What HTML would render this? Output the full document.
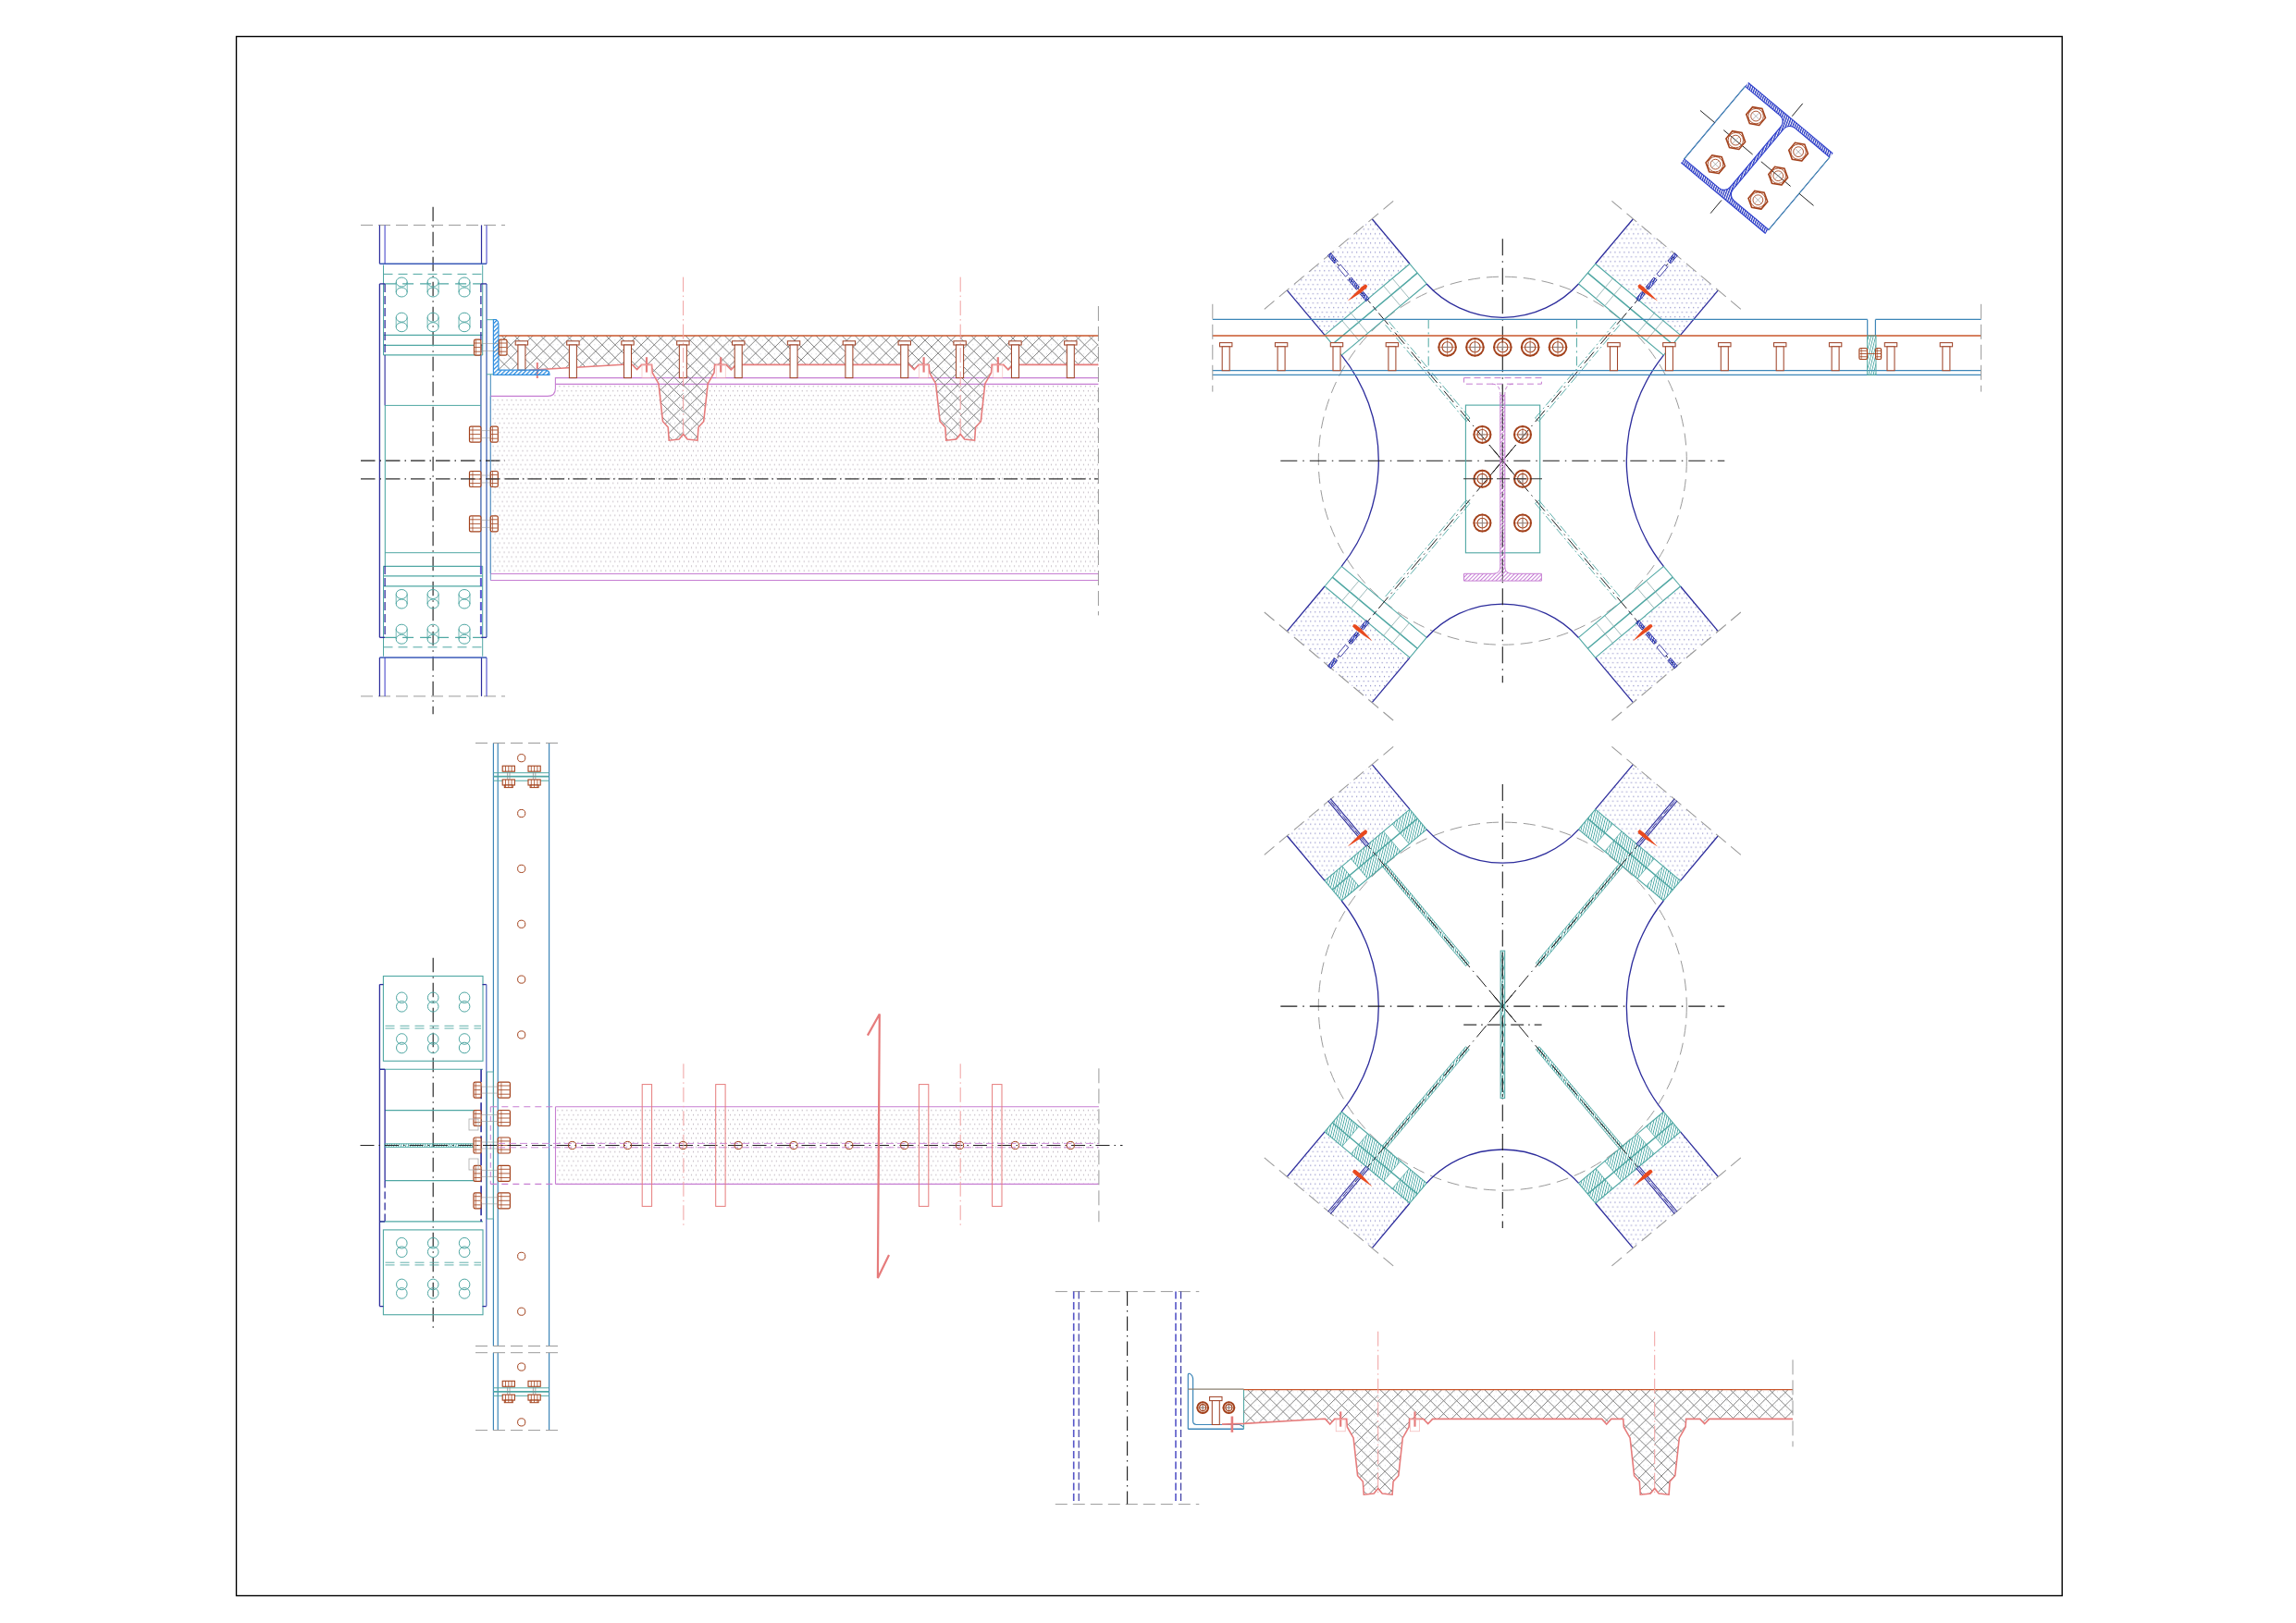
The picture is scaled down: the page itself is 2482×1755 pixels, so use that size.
<!DOCTYPE html>
<html><head><meta charset="utf-8"><title>Drawing</title>
<style>html,body{margin:0;padding:0;background:#fff;overflow:hidden;}svg{display:block;}</style>
</head><body>
<svg width="2482" height="1755" viewBox="0 0 2482 1755">
<defs>
<pattern id="xhA" patternUnits="userSpaceOnUse" width="14.1" height="13.9" patternTransform="translate(9.3,4.5)">
 <path d="M-14.10 -13.90 L0.00 0.00 M0.00 -13.90 L-14.10 0.00 M-14.10 0.00 L0.00 13.90 M0.00 0.00 L-14.10 13.90 M-14.10 13.90 L0.00 27.80 M0.00 13.90 L-14.10 27.80 M0.00 -13.90 L14.10 0.00 M14.10 -13.90 L0.00 0.00 M0.00 0.00 L14.10 13.90 M14.10 0.00 L0.00 13.90 M0.00 13.90 L14.10 27.80 M14.10 13.90 L0.00 27.80 M14.10 -13.90 L28.20 0.00 M28.20 -13.90 L14.10 0.00 M14.10 0.00 L28.20 13.90 M28.20 0.00 L14.10 13.90 M14.10 13.90 L28.20 27.80 M28.20 13.90 L14.10 27.80" stroke="#727272" stroke-width="1.0" fill="none"/>
</pattern>
<pattern id="xhB" patternUnits="userSpaceOnUse" width="14.1" height="13.9" patternTransform="translate(13.0,6.7)">
 <path d="M-14.10 -13.90 L0.00 0.00 M0.00 -13.90 L-14.10 0.00 M-14.10 0.00 L0.00 13.90 M0.00 0.00 L-14.10 13.90 M-14.10 13.90 L0.00 27.80 M0.00 13.90 L-14.10 27.80 M0.00 -13.90 L14.10 0.00 M14.10 -13.90 L0.00 0.00 M0.00 0.00 L14.10 13.90 M14.10 0.00 L0.00 13.90 M0.00 13.90 L14.10 27.80 M14.10 13.90 L0.00 27.80 M14.10 -13.90 L28.20 0.00 M28.20 -13.90 L14.10 0.00 M14.10 0.00 L28.20 13.90 M28.20 0.00 L14.10 13.90 M14.10 13.90 L28.20 27.80 M28.20 13.90 L14.10 27.80" stroke="#727272" stroke-width="1.0" fill="none"/>
</pattern>
<pattern id="xhA2" patternUnits="userSpaceOnUse" width="14.1" height="13.9" patternTransform="translate(12.3,4.5)">
 <path d="M-14.10 -13.90 L0.00 0.00 M0.00 -13.90 L-14.10 0.00 M-14.10 0.00 L0.00 13.90 M0.00 0.00 L-14.10 13.90 M-14.10 13.90 L0.00 27.80 M0.00 13.90 L-14.10 27.80 M0.00 -13.90 L14.10 0.00 M14.10 -13.90 L0.00 0.00 M0.00 0.00 L14.10 13.90 M14.10 0.00 L0.00 13.90 M0.00 13.90 L14.10 27.80 M14.10 13.90 L0.00 27.80 M14.10 -13.90 L28.20 0.00 M28.20 -13.90 L14.10 0.00 M14.10 0.00 L28.20 13.90 M28.20 0.00 L14.10 13.90 M14.10 13.90 L28.20 27.80 M28.20 13.90 L14.10 27.80" stroke="#727272" stroke-width="1.0" fill="none"/>
</pattern>
<pattern id="xhB2" patternUnits="userSpaceOnUse" width="14.1" height="13.9" patternTransform="translate(2.5,6.6)">
 <path d="M-14.10 -13.90 L0.00 0.00 M0.00 -13.90 L-14.10 0.00 M-14.10 0.00 L0.00 13.90 M0.00 0.00 L-14.10 13.90 M-14.10 13.90 L0.00 27.80 M0.00 13.90 L-14.10 27.80 M0.00 -13.90 L14.10 0.00 M14.10 -13.90 L0.00 0.00 M0.00 0.00 L14.10 13.90 M14.10 0.00 L0.00 13.90 M0.00 13.90 L14.10 27.80 M14.10 13.90 L0.00 27.80 M14.10 -13.90 L28.20 0.00 M28.20 -13.90 L14.10 0.00 M14.10 0.00 L28.20 13.90 M28.20 0.00 L14.10 13.90 M14.10 13.90 L28.20 27.80 M28.20 13.90 L14.10 27.80" stroke="#727272" stroke-width="1.0" fill="none"/>
</pattern>
<clipPath id="cTL1"><rect x="0" y="0" width="738.6" height="1755"/></clipPath>
<clipPath id="cTL2"><rect x="738.6" y="0" width="299.6" height="1755"/></clipPath>
<clipPath id="cTL3"><rect x="1038.2" y="0" width="1400" height="1755"/></clipPath>
<clipPath id="cB1"><rect x="0" y="0" width="1489.7" height="1755"/></clipPath>
<clipPath id="cB2"><rect x="1489.7" y="0" width="299" height="1755"/></clipPath>
<clipPath id="cB3"><rect x="1788.7" y="0" width="700" height="1755"/></clipPath>
<pattern id="dotp" patternUnits="userSpaceOnUse" width="4.987" height="9.974">
 <rect x="3.93" y="3.03" width="1.0" height="1.4" fill="#b8aeb8"/>
 <rect x="1.03" y="8.02" width="1.0" height="1.4" fill="#b8aeb8"/>
 <rect x="1.03" y="-1.96" width="1.0" height="1.4" fill="#b8aeb8"/>
</pattern>
<pattern id="dots" patternUnits="userSpaceOnUse" width="4.987" height="9.974">
 <rect x="3.93" y="3.03" width="1.0" height="1.4" fill="#e2e2e8"/>
 <rect x="1.03" y="8.02" width="1.0" height="1.4" fill="#e2e2e8"/>
</pattern>
<pattern id="dotb" patternUnits="userSpaceOnUse" width="4.987" height="9.974">
 <rect x="2.6" y="7.85" width="1.0" height="1.3" fill="#8080c0"/>
 <rect x="0.0" y="2.87" width="1.0" height="1.3" fill="#8080c0"/>
 <rect x="4.987" y="2.87" width="1.0" height="1.3" fill="#8080c0"/>
</pattern>
<pattern id="hb" patternUnits="userSpaceOnUse" width="3.2" height="3.2" patternTransform="rotate(45)">
 <rect x="0" y="0" width="1.3" height="3.2" fill="#2f8ee0"/>
</pattern>
<pattern id="hnavy" patternUnits="userSpaceOnUse" width="2.4" height="2.4" patternTransform="rotate(20)">
 <rect x="0" y="0" width="1.3" height="2.4" fill="#2535c0"/>
</pattern>
<pattern id="ht" patternUnits="userSpaceOnUse" width="2.5" height="2.5" patternTransform="rotate(14)">
 <rect x="0" y="0" width="0.85" height="2.5" fill="#44a5a1"/>
</pattern>
<pattern id="hp" patternUnits="userSpaceOnUse" width="3" height="3" patternTransform="rotate(45)">
 <rect x="0" y="0" width="1" height="3" fill="#c77fd6"/>
</pattern>
</defs>
<rect x="255.5" y="39.5" width="1973.7" height="1686" stroke="#000" stroke-width="1.4" fill="none"/>
<line x1="390" y1="243.4" x2="546" y2="243.4" stroke="#9a9a9a" stroke-width="1" stroke-dasharray="13 6"/>
<line x1="390" y1="752.9" x2="546" y2="752.9" stroke="#9a9a9a" stroke-width="1" stroke-dasharray="13 6"/>
<line x1="468.1" y1="223.7" x2="468.1" y2="772.2" stroke="#1a1a1a" stroke-width="1.1" stroke-dasharray="15.5 5 1.5 5"/>
<line x1="410.4" y1="243.4" x2="410.4" y2="285.3" stroke="#2c2c9c" stroke-width="1.2"/>
<line x1="416.1" y1="243.4" x2="416.1" y2="285.3" stroke="#5a5ad0" stroke-width="1.2"/>
<line x1="520.5" y1="243.4" x2="520.5" y2="285.3" stroke="#2c2c9c" stroke-width="1.2"/>
<line x1="526" y1="243.4" x2="526" y2="285.3" stroke="#5a5ad0" stroke-width="1.2"/>
<line x1="410.4" y1="710.9" x2="410.4" y2="752.9" stroke="#2c2c9c" stroke-width="1.2"/>
<line x1="416.1" y1="710.9" x2="416.1" y2="752.9" stroke="#5a5ad0" stroke-width="1.2"/>
<line x1="520.5" y1="710.9" x2="520.5" y2="752.9" stroke="#2c2c9c" stroke-width="1.2"/>
<line x1="526" y1="710.9" x2="526" y2="752.9" stroke="#5a5ad0" stroke-width="1.2"/>
<line x1="410.4" y1="285.3" x2="526" y2="285.3" stroke="#3a5ab8" stroke-width="1.5"/>
<line x1="410.4" y1="710.9" x2="526" y2="710.9" stroke="#3a5ab8" stroke-width="1.5"/>
<line x1="414.5" y1="286.5" x2="414.5" y2="384" stroke="#4fa7a3" stroke-width="1"/>
<line x1="521.7" y1="286.5" x2="521.7" y2="384" stroke="#4fa7a3" stroke-width="1"/>
<line x1="414.5" y1="296.4" x2="521.7" y2="296.4" stroke="#4fa7a3" stroke-width="1" stroke-dasharray="10 6"/>
<line x1="416.1" y1="306.9" x2="519.9" y2="306.9" stroke="#4fa7a3" stroke-width="1.2" stroke-dasharray="12 7"/>
<line x1="414.5" y1="362.3" x2="521.7" y2="362.3" stroke="#4fa7a3" stroke-width="1.3"/>
<line x1="414.5" y1="373.4" x2="521.7" y2="373.4" stroke="#4fa7a3" stroke-width="1.3"/>
<line x1="414.5" y1="383.9" x2="521.7" y2="383.9" stroke="#4fa7a3" stroke-width="1.3"/>
<ellipse cx="434.2" cy="305" rx="6" ry="5" stroke="#4fa7a3" stroke-width="1" fill="none"/>
<ellipse cx="434.2" cy="316" rx="6" ry="5" stroke="#4fa7a3" stroke-width="1" fill="none"/>
<line x1="428.2" y1="305" x2="428.2" y2="316" stroke="#4fa7a3" stroke-width="0.8"/>
<line x1="440.2" y1="305" x2="440.2" y2="316" stroke="#4fa7a3" stroke-width="0.8"/>
<ellipse cx="434.2" cy="343.2" rx="6" ry="5" stroke="#4fa7a3" stroke-width="1" fill="none"/>
<ellipse cx="434.2" cy="353.7" rx="6" ry="5" stroke="#4fa7a3" stroke-width="1" fill="none"/>
<line x1="428.2" y1="343.2" x2="428.2" y2="353.7" stroke="#4fa7a3" stroke-width="0.8"/>
<line x1="440.2" y1="343.2" x2="440.2" y2="353.7" stroke="#4fa7a3" stroke-width="0.8"/>
<ellipse cx="468.1" cy="305" rx="6" ry="5" stroke="#4fa7a3" stroke-width="1" fill="none"/>
<ellipse cx="468.1" cy="316" rx="6" ry="5" stroke="#4fa7a3" stroke-width="1" fill="none"/>
<line x1="462.1" y1="305" x2="462.1" y2="316" stroke="#4fa7a3" stroke-width="0.8"/>
<line x1="474.1" y1="305" x2="474.1" y2="316" stroke="#4fa7a3" stroke-width="0.8"/>
<ellipse cx="468.1" cy="343.2" rx="6" ry="5" stroke="#4fa7a3" stroke-width="1" fill="none"/>
<ellipse cx="468.1" cy="353.7" rx="6" ry="5" stroke="#4fa7a3" stroke-width="1" fill="none"/>
<line x1="462.1" y1="343.2" x2="462.1" y2="353.7" stroke="#4fa7a3" stroke-width="0.8"/>
<line x1="474.1" y1="343.2" x2="474.1" y2="353.7" stroke="#4fa7a3" stroke-width="0.8"/>
<ellipse cx="502" cy="305" rx="6" ry="5" stroke="#4fa7a3" stroke-width="1" fill="none"/>
<ellipse cx="502" cy="316" rx="6" ry="5" stroke="#4fa7a3" stroke-width="1" fill="none"/>
<line x1="496" y1="305" x2="496" y2="316" stroke="#4fa7a3" stroke-width="0.8"/>
<line x1="508" y1="305" x2="508" y2="316" stroke="#4fa7a3" stroke-width="0.8"/>
<ellipse cx="502" cy="343.2" rx="6" ry="5" stroke="#4fa7a3" stroke-width="1" fill="none"/>
<ellipse cx="502" cy="353.7" rx="6" ry="5" stroke="#4fa7a3" stroke-width="1" fill="none"/>
<line x1="496" y1="343.2" x2="496" y2="353.7" stroke="#4fa7a3" stroke-width="0.8"/>
<line x1="508" y1="343.2" x2="508" y2="353.7" stroke="#4fa7a3" stroke-width="0.8"/>
<line x1="414.5" y1="709.7" x2="414.5" y2="612.2" stroke="#4fa7a3" stroke-width="1"/>
<line x1="521.7" y1="709.7" x2="521.7" y2="612.2" stroke="#4fa7a3" stroke-width="1"/>
<line x1="414.5" y1="699.8" x2="521.7" y2="699.8" stroke="#4fa7a3" stroke-width="1" stroke-dasharray="10 6"/>
<line x1="416.1" y1="689.3" x2="519.9" y2="689.3" stroke="#4fa7a3" stroke-width="1.2" stroke-dasharray="12 7"/>
<line x1="414.5" y1="633.9" x2="521.7" y2="633.9" stroke="#4fa7a3" stroke-width="1.3"/>
<line x1="414.5" y1="622.8" x2="521.7" y2="622.8" stroke="#4fa7a3" stroke-width="1.3"/>
<line x1="414.5" y1="612.3" x2="521.7" y2="612.3" stroke="#4fa7a3" stroke-width="1.3"/>
<ellipse cx="434.2" cy="691.2" rx="6" ry="5" stroke="#4fa7a3" stroke-width="1" fill="none"/>
<ellipse cx="434.2" cy="680.2" rx="6" ry="5" stroke="#4fa7a3" stroke-width="1" fill="none"/>
<line x1="428.2" y1="691.2" x2="428.2" y2="680.2" stroke="#4fa7a3" stroke-width="0.8"/>
<line x1="440.2" y1="691.2" x2="440.2" y2="680.2" stroke="#4fa7a3" stroke-width="0.8"/>
<ellipse cx="434.2" cy="653" rx="6" ry="5" stroke="#4fa7a3" stroke-width="1" fill="none"/>
<ellipse cx="434.2" cy="642.5" rx="6" ry="5" stroke="#4fa7a3" stroke-width="1" fill="none"/>
<line x1="428.2" y1="653" x2="428.2" y2="642.5" stroke="#4fa7a3" stroke-width="0.8"/>
<line x1="440.2" y1="653" x2="440.2" y2="642.5" stroke="#4fa7a3" stroke-width="0.8"/>
<ellipse cx="468.1" cy="691.2" rx="6" ry="5" stroke="#4fa7a3" stroke-width="1" fill="none"/>
<ellipse cx="468.1" cy="680.2" rx="6" ry="5" stroke="#4fa7a3" stroke-width="1" fill="none"/>
<line x1="462.1" y1="691.2" x2="462.1" y2="680.2" stroke="#4fa7a3" stroke-width="0.8"/>
<line x1="474.1" y1="691.2" x2="474.1" y2="680.2" stroke="#4fa7a3" stroke-width="0.8"/>
<ellipse cx="468.1" cy="653" rx="6" ry="5" stroke="#4fa7a3" stroke-width="1" fill="none"/>
<ellipse cx="468.1" cy="642.5" rx="6" ry="5" stroke="#4fa7a3" stroke-width="1" fill="none"/>
<line x1="462.1" y1="653" x2="462.1" y2="642.5" stroke="#4fa7a3" stroke-width="0.8"/>
<line x1="474.1" y1="653" x2="474.1" y2="642.5" stroke="#4fa7a3" stroke-width="0.8"/>
<ellipse cx="502" cy="691.2" rx="6" ry="5" stroke="#4fa7a3" stroke-width="1" fill="none"/>
<ellipse cx="502" cy="680.2" rx="6" ry="5" stroke="#4fa7a3" stroke-width="1" fill="none"/>
<line x1="496" y1="691.2" x2="496" y2="680.2" stroke="#4fa7a3" stroke-width="0.8"/>
<line x1="508" y1="691.2" x2="508" y2="680.2" stroke="#4fa7a3" stroke-width="0.8"/>
<ellipse cx="502" cy="653" rx="6" ry="5" stroke="#4fa7a3" stroke-width="1" fill="none"/>
<ellipse cx="502" cy="642.5" rx="6" ry="5" stroke="#4fa7a3" stroke-width="1" fill="none"/>
<line x1="496" y1="653" x2="496" y2="642.5" stroke="#4fa7a3" stroke-width="0.8"/>
<line x1="508" y1="653" x2="508" y2="642.5" stroke="#4fa7a3" stroke-width="0.8"/>
<line x1="410.4" y1="306.9" x2="410.4" y2="689.3" stroke="#2c2c9c" stroke-width="1.3"/>
<line x1="526" y1="306.9" x2="526" y2="689.3" stroke="#5a78c0" stroke-width="1.5"/>
<line x1="410.4" y1="306.9" x2="416.1" y2="306.9" stroke="#2c2c9c" stroke-width="1.3"/>
<line x1="410.4" y1="689.3" x2="416.1" y2="689.3" stroke="#2c2c9c" stroke-width="1.3"/>
<line x1="519.9" y1="306.9" x2="526" y2="306.9" stroke="#2c2c9c" stroke-width="1.3"/>
<line x1="519.9" y1="689.3" x2="526" y2="689.3" stroke="#2c2c9c" stroke-width="1.3"/>
<line x1="416.1" y1="306.9" x2="416.1" y2="384" stroke="#2c2c9c" stroke-width="1.3" stroke-dasharray="9 4"/>
<line x1="416.1" y1="612" x2="416.1" y2="689.3" stroke="#2c2c9c" stroke-width="1.3" stroke-dasharray="9 4"/>
<line x1="416.1" y1="384" x2="416.1" y2="438.4" stroke="#2c2c9c" stroke-width="1.1"/>
<line x1="416.3" y1="438.4" x2="416.3" y2="612" stroke="#4fa7a3" stroke-width="1.1"/>
<line x1="519.9" y1="306.9" x2="519.9" y2="384" stroke="#2c2c9c" stroke-width="1.3" stroke-dasharray="9 4"/>
<line x1="519.9" y1="612" x2="519.9" y2="689.3" stroke="#5a5ad0" stroke-width="2" stroke-dasharray="9 4"/>
<line x1="519.9" y1="384" x2="519.9" y2="612" stroke="#5a7ab8" stroke-width="1.5"/>
<line x1="416" y1="438.4" x2="520" y2="438.4" stroke="#4fa7a3" stroke-width="1"/>
<line x1="416" y1="597.7" x2="520" y2="597.7" stroke="#4fa7a3" stroke-width="1"/>
<line x1="530.3" y1="404.8" x2="530.3" y2="620" stroke="#3d86b8" stroke-width="1"/>
<line x1="526" y1="345.7" x2="533.4" y2="345.7" stroke="#4fa7a3" stroke-width="1"/>
<line x1="526" y1="404.8" x2="533.4" y2="404.8" stroke="#4fa7a3" stroke-width="1"/>
<line x1="390" y1="498.2" x2="546" y2="498.2" stroke="#1a1a1a" stroke-width="1.2" stroke-dasharray="15.5 5 1.5 5"/>
<path d="M530.3 428.4 L592 428.4 Q600.4 428.4 600.4 420 L600.4 415.4 L1187.4 415.4 L1187.4 620.5 L530.3 620.5 Z" fill="url(#dotp)" stroke="none"/>
<path d="M530.3 428.4 L592 428.4 Q600.4 428.4 600.4 420 L600.4 408.6 L1187.4 408.6" stroke="#c67ed2" stroke-width="1.1" fill="none"/>
<line x1="600.4" y1="415.4" x2="1187.4" y2="415.4" stroke="#c67ed2" stroke-width="1.1"/>
<line x1="530.3" y1="620.5" x2="1187.4" y2="620.5" stroke="#c67ed2" stroke-width="1.1"/>
<line x1="530.3" y1="627.5" x2="1187.4" y2="627.5" stroke="#c67ed2" stroke-width="1.1"/>
<line x1="530.3" y1="428.4" x2="530.3" y2="627.5" stroke="#6a9ac8" stroke-width="1"/>
<path d="M538.9 363 L538.9 400.2 L571.8 400.2 L681.7 393.8 L683.6 394.4 L688.6 399.6 L693.6 394.4 L704.6 394.4 L705.2 402.9 L709.1 409.9 L712 414.9 L716.5 455.7 L722.2 462 L723.2 476.2 L734.1 475 L738.6 469.4 L743.1 475 L754 476.2 L755 462 L760.7 455.7 L765.2 414.9 L768.1 409.9 L772 402.9 L772.6 394.4 L785.1 394.4 L790.3 399.9 L795.6 394.4 L983.2 394.4 L988.2 399.6 L993.2 394.4 L1004.2 394.4 L1004.8 402.9 L1008.7 409.9 L1011.6 414.9 L1016.1 455.7 L1021.8 462 L1022.8 476.2 L1033.7 475 L1038.2 469.4 L1042.7 475 L1053.6 476.2 L1054.6 462 L1060.3 455.7 L1064.8 414.9 L1067.7 409.9 L1071.6 402.9 L1072.2 394.4 L1084.7 394.4 L1089.9 399.9 L1095.2 394.4 L1187.4 394.4 L1187.4 363 Z" stroke="none" stroke-width="0" fill="url(#dots)"/>
<clipPath id="xc1"><path d="M538.9 363 L538.9 400.2 L571.8 400.2 L681.7 393.8 L683.6 394.4 L688.6 399.6 L693.6 394.4 L704.6 394.4 L705.2 402.9 L709.1 409.9 L712 414.9 L716.5 455.7 L722.2 462 L723.2 476.2 L734.1 475 L738.6 469.4 L743.1 475 L754 476.2 L755 462 L760.7 455.7 L765.2 414.9 L768.1 409.9 L772 402.9 L772.6 394.4 L785.1 394.4 L790.3 399.9 L795.6 394.4 L983.2 394.4 L988.2 399.6 L993.2 394.4 L1004.2 394.4 L1004.8 402.9 L1008.7 409.9 L1011.6 414.9 L1016.1 455.7 L1021.8 462 L1022.8 476.2 L1033.7 475 L1038.2 469.4 L1042.7 475 L1053.6 476.2 L1054.6 462 L1060.3 455.7 L1064.8 414.9 L1067.7 409.9 L1071.6 402.9 L1072.2 394.4 L1084.7 394.4 L1089.9 399.9 L1095.2 394.4 L1187.4 394.4 L1187.4 363 Z"/></clipPath>
<clipPath id="xc1r"><rect x="0" y="0" width="738.6" height="1755"/></clipPath>
<g clip-path="url(#xc1r)"><g clip-path="url(#xc1)"><path d="M385.03 361 L503.92 478.2 M394.97 361 L276.08 478.2 M399.13 361 L518.02 478.2 M409.07 361 L290.18 478.2 M413.23 361 L532.12 478.2 M423.17 361 L304.28 478.2 M427.33 361 L546.22 478.2 M437.27 361 L318.38 478.2 M441.43 361 L560.32 478.2 M451.37 361 L332.48 478.2 M455.53 361 L574.42 478.2 M465.47 361 L346.58 478.2 M469.63 361 L588.52 478.2 M479.57 361 L360.68 478.2 M483.73 361 L602.62 478.2 M493.67 361 L374.78 478.2 M497.83 361 L616.72 478.2 M507.77 361 L388.88 478.2 M511.93 361 L630.82 478.2 M521.87 361 L402.98 478.2 M526.03 361 L644.92 478.2 M535.97 361 L417.08 478.2 M540.13 361 L659.02 478.2 M550.07 361 L431.18 478.2 M554.23 361 L673.12 478.2 M564.17 361 L445.28 478.2 M568.33 361 L687.22 478.2 M578.27 361 L459.38 478.2 M582.43 361 L701.32 478.2 M592.37 361 L473.48 478.2 M596.53 361 L715.42 478.2 M606.47 361 L487.58 478.2 M610.63 361 L729.52 478.2 M620.57 361 L501.68 478.2 M624.73 361 L743.62 478.2 M634.67 361 L515.78 478.2 M638.83 361 L757.72 478.2 M648.77 361 L529.88 478.2 M652.93 361 L771.82 478.2 M662.87 361 L543.98 478.2 M667.03 361 L785.92 478.2 M676.97 361 L558.08 478.2 M681.13 361 L800.02 478.2 M691.07 361 L572.18 478.2 M695.23 361 L814.12 478.2 M705.17 361 L586.28 478.2 M709.33 361 L828.22 478.2 M719.27 361 L600.38 478.2 M723.43 361 L842.32 478.2 M733.37 361 L614.48 478.2 M737.53 361 L856.42 478.2 M747.47 361 L628.58 478.2 M751.63 361 L870.52 478.2 M761.57 361 L642.68 478.2 M765.73 361 L884.62 478.2 M775.67 361 L656.78 478.2 M779.83 361 L898.72 478.2 M789.77 361 L670.88 478.2 M793.93 361 L912.82 478.2 M803.87 361 L684.98 478.2 M808.03 361 L926.92 478.2 M817.97 361 L699.08 478.2 M822.13 361 L941.02 478.2 M832.07 361 L713.18 478.2 M836.23 361 L955.12 478.2 M846.17 361 L727.28 478.2 M850.33 361 L969.22 478.2 M860.27 361 L741.38 478.2 M864.43 361 L983.32 478.2 M874.37 361 L755.48 478.2 M878.53 361 L997.42 478.2 M888.47 361 L769.58 478.2" stroke="#858585" stroke-width="1" fill="none"/></g></g>
<clipPath id="xc2"><path d="M538.9 363 L538.9 400.2 L571.8 400.2 L681.7 393.8 L683.6 394.4 L688.6 399.6 L693.6 394.4 L704.6 394.4 L705.2 402.9 L709.1 409.9 L712 414.9 L716.5 455.7 L722.2 462 L723.2 476.2 L734.1 475 L738.6 469.4 L743.1 475 L754 476.2 L755 462 L760.7 455.7 L765.2 414.9 L768.1 409.9 L772 402.9 L772.6 394.4 L785.1 394.4 L790.3 399.9 L795.6 394.4 L983.2 394.4 L988.2 399.6 L993.2 394.4 L1004.2 394.4 L1004.8 402.9 L1008.7 409.9 L1011.6 414.9 L1016.1 455.7 L1021.8 462 L1022.8 476.2 L1033.7 475 L1038.2 469.4 L1042.7 475 L1053.6 476.2 L1054.6 462 L1060.3 455.7 L1064.8 414.9 L1067.7 409.9 L1071.6 402.9 L1072.2 394.4 L1084.7 394.4 L1089.9 399.9 L1095.2 394.4 L1187.4 394.4 L1187.4 363 Z"/></clipPath>
<clipPath id="xc2r"><rect x="738.6" y="0" width="299.6" height="1755"/></clipPath>
<g clip-path="url(#xc2r)"><g clip-path="url(#xc2)"><path d="M583.9 361 L702.78 478.2 M598.3 361 L479.42 478.2 M598 361 L716.88 478.2 M612.4 361 L493.52 478.2 M612.1 361 L730.98 478.2 M626.5 361 L507.62 478.2 M626.2 361 L745.08 478.2 M640.6 361 L521.72 478.2 M640.3 361 L759.18 478.2 M654.7 361 L535.82 478.2 M654.4 361 L773.28 478.2 M668.8 361 L549.92 478.2 M668.5 361 L787.38 478.2 M682.9 361 L564.02 478.2 M682.6 361 L801.48 478.2 M697 361 L578.12 478.2 M696.7 361 L815.58 478.2 M711.1 361 L592.22 478.2 M710.8 361 L829.68 478.2 M725.2 361 L606.32 478.2 M724.9 361 L843.78 478.2 M739.3 361 L620.42 478.2 M739 361 L857.88 478.2 M753.4 361 L634.52 478.2 M753.1 361 L871.98 478.2 M767.5 361 L648.62 478.2 M767.2 361 L886.08 478.2 M781.6 361 L662.72 478.2 M781.3 361 L900.18 478.2 M795.7 361 L676.82 478.2 M795.4 361 L914.28 478.2 M809.8 361 L690.92 478.2 M809.5 361 L928.38 478.2 M823.9 361 L705.02 478.2 M823.6 361 L942.48 478.2 M838 361 L719.12 478.2 M837.7 361 L956.58 478.2 M852.1 361 L733.22 478.2 M851.8 361 L970.68 478.2 M866.2 361 L747.32 478.2 M865.9 361 L984.78 478.2 M880.3 361 L761.42 478.2 M880 361 L998.88 478.2 M894.4 361 L775.52 478.2 M894.1 361 L1012.98 478.2 M908.5 361 L789.62 478.2 M908.2 361 L1027.08 478.2 M922.6 361 L803.72 478.2 M922.3 361 L1041.18 478.2 M936.7 361 L817.82 478.2 M936.4 361 L1055.28 478.2 M950.8 361 L831.92 478.2 M950.5 361 L1069.38 478.2 M964.9 361 L846.02 478.2 M964.6 361 L1083.48 478.2 M979 361 L860.12 478.2 M978.7 361 L1097.58 478.2 M993.1 361 L874.22 478.2 M992.8 361 L1111.68 478.2 M1007.2 361 L888.32 478.2 M1006.9 361 L1125.78 478.2 M1021.3 361 L902.42 478.2 M1021 361 L1139.88 478.2 M1035.4 361 L916.52 478.2 M1035.1 361 L1153.98 478.2 M1049.5 361 L930.62 478.2 M1049.2 361 L1168.08 478.2 M1063.6 361 L944.72 478.2 M1063.3 361 L1182.18 478.2 M1077.7 361 L958.82 478.2 M1077.4 361 L1196.28 478.2 M1091.8 361 L972.92 478.2 M1091.5 361 L1210.38 478.2 M1105.9 361 L987.02 478.2 M1105.6 361 L1224.48 478.2 M1120 361 L1001.12 478.2 M1119.7 361 L1238.58 478.2 M1134.1 361 L1015.22 478.2 M1133.8 361 L1252.68 478.2 M1148.2 361 L1029.32 478.2 M1147.9 361 L1266.78 478.2 M1162.3 361 L1043.42 478.2 M1162 361 L1280.88 478.2 M1176.4 361 L1057.52 478.2 M1176.1 361 L1294.98 478.2 M1190.5 361 L1071.62 478.2" stroke="#858585" stroke-width="1" fill="none"/></g></g>
<clipPath id="xc3"><path d="M538.9 363 L538.9 400.2 L571.8 400.2 L681.7 393.8 L683.6 394.4 L688.6 399.6 L693.6 394.4 L704.6 394.4 L705.2 402.9 L709.1 409.9 L712 414.9 L716.5 455.7 L722.2 462 L723.2 476.2 L734.1 475 L738.6 469.4 L743.1 475 L754 476.2 L755 462 L760.7 455.7 L765.2 414.9 L768.1 409.9 L772 402.9 L772.6 394.4 L785.1 394.4 L790.3 399.9 L795.6 394.4 L983.2 394.4 L988.2 399.6 L993.2 394.4 L1004.2 394.4 L1004.8 402.9 L1008.7 409.9 L1011.6 414.9 L1016.1 455.7 L1021.8 462 L1022.8 476.2 L1033.7 475 L1038.2 469.4 L1042.7 475 L1053.6 476.2 L1054.6 462 L1060.3 455.7 L1064.8 414.9 L1067.7 409.9 L1071.6 402.9 L1072.2 394.4 L1084.7 394.4 L1089.9 399.9 L1095.2 394.4 L1187.4 394.4 L1187.4 363 Z"/></clipPath>
<clipPath id="xc3r"><rect x="1038.2" y="0" width="961.8" height="1755"/></clipPath>
<g clip-path="url(#xc3r)"><g clip-path="url(#xc3)"><path d="M892.63 361 L1011.52 478.2 M902.57 361 L783.68 478.2 M906.73 361 L1025.62 478.2 M916.67 361 L797.78 478.2 M920.83 361 L1039.72 478.2 M930.77 361 L811.88 478.2 M934.93 361 L1053.82 478.2 M944.87 361 L825.98 478.2 M949.03 361 L1067.92 478.2 M958.97 361 L840.08 478.2 M963.13 361 L1082.02 478.2 M973.07 361 L854.18 478.2 M977.23 361 L1096.12 478.2 M987.17 361 L868.28 478.2 M991.33 361 L1110.22 478.2 M1001.27 361 L882.38 478.2 M1005.43 361 L1124.32 478.2 M1015.37 361 L896.48 478.2 M1019.53 361 L1138.42 478.2 M1029.47 361 L910.58 478.2 M1033.63 361 L1152.52 478.2 M1043.57 361 L924.68 478.2 M1047.73 361 L1166.62 478.2 M1057.67 361 L938.78 478.2 M1061.83 361 L1180.72 478.2 M1071.77 361 L952.88 478.2 M1075.93 361 L1194.82 478.2 M1085.87 361 L966.98 478.2 M1090.03 361 L1208.92 478.2 M1099.97 361 L981.08 478.2 M1104.13 361 L1223.02 478.2 M1114.07 361 L995.18 478.2 M1118.23 361 L1237.12 478.2 M1128.17 361 L1009.28 478.2 M1132.33 361 L1251.22 478.2 M1142.27 361 L1023.38 478.2 M1146.43 361 L1265.32 478.2 M1156.37 361 L1037.48 478.2 M1160.53 361 L1279.42 478.2 M1170.47 361 L1051.58 478.2 M1174.63 361 L1293.52 478.2 M1184.57 361 L1065.68 478.2 M1188.73 361 L1307.62 478.2 M1198.67 361 L1079.78 478.2 M1202.83 361 L1321.72 478.2 M1212.77 361 L1093.88 478.2 M1216.93 361 L1335.82 478.2 M1226.87 361 L1107.98 478.2 M1231.03 361 L1349.92 478.2 M1240.97 361 L1122.08 478.2 M1245.13 361 L1364.02 478.2 M1255.07 361 L1136.18 478.2 M1259.23 361 L1378.12 478.2 M1269.17 361 L1150.28 478.2 M1273.33 361 L1392.22 478.2 M1283.27 361 L1164.38 478.2 M1287.43 361 L1406.32 478.2 M1297.37 361 L1178.48 478.2 M1301.53 361 L1420.42 478.2 M1311.47 361 L1192.58 478.2 M1315.63 361 L1434.52 478.2 M1325.57 361 L1206.68 478.2 M1329.73 361 L1448.62 478.2 M1339.67 361 L1220.78 478.2" stroke="#858585" stroke-width="1" fill="none"/></g></g>
<path d="M571.8 400.2 L681.7 393.8 L683.6 394.4 L688.6 399.6 L693.6 394.4 L704.6 394.4 L705.2 402.9 L709.1 409.9 L712 414.9 L716.5 455.7 L722.2 462 L723.2 476.2 L734.1 475 L738.6 469.4 L743.1 475 L754 476.2 L755 462 L760.7 455.7 L765.2 414.9 L768.1 409.9 L772 402.9 L772.6 394.4 L785.1 394.4 L790.3 399.9 L795.6 394.4 L983.2 394.4 L988.2 399.6 L993.2 394.4 L1004.2 394.4 L1004.8 402.9 L1008.7 409.9 L1011.6 414.9 L1016.1 455.7 L1021.8 462 L1022.8 476.2 L1033.7 475 L1038.2 469.4 L1042.7 475 L1053.6 476.2 L1054.6 462 L1060.3 455.7 L1064.8 414.9 L1067.7 409.9 L1071.6 402.9 L1072.2 394.4 L1084.7 394.4 L1089.9 399.9 L1095.2 394.4 L1187.4 394.4" stroke="#e67c7c" stroke-width="1.6" fill="none"/>
<line x1="538.9" y1="363" x2="1187.4" y2="363" stroke="#c9562b" stroke-width="1.4"/>
<rect x="557.2" y="368.8" width="13.4" height="4.2" stroke="#a0452a" stroke-width="1.05" fill="#fff"/>
<rect x="559.9" y="373" width="8" height="27.2" stroke="#a0452a" stroke-width="1.05" fill="#fff"/>
<rect x="612.7" y="368.8" width="13.4" height="4.2" stroke="#a0452a" stroke-width="1.05" fill="#fff"/>
<rect x="615.4" y="373" width="8" height="35.6" stroke="#a0452a" stroke-width="1.05" fill="#fff"/>
<rect x="671.8" y="368.8" width="13.4" height="4.2" stroke="#a0452a" stroke-width="1.05" fill="#fff"/>
<rect x="674.5" y="373" width="8" height="35.6" stroke="#a0452a" stroke-width="1.05" fill="#fff"/>
<rect x="731.65" y="368.8" width="13.4" height="4.2" stroke="#a0452a" stroke-width="1.05" fill="#fff"/>
<rect x="734.35" y="373" width="8" height="35.6" stroke="#a0452a" stroke-width="1.05" fill="#fff"/>
<rect x="791.5" y="368.8" width="13.4" height="4.2" stroke="#a0452a" stroke-width="1.05" fill="#fff"/>
<rect x="794.2" y="373" width="8" height="35.6" stroke="#a0452a" stroke-width="1.05" fill="#fff"/>
<rect x="851.35" y="368.8" width="13.4" height="4.2" stroke="#a0452a" stroke-width="1.05" fill="#fff"/>
<rect x="854.05" y="373" width="8" height="35.6" stroke="#a0452a" stroke-width="1.05" fill="#fff"/>
<rect x="911.2" y="368.8" width="13.4" height="4.2" stroke="#a0452a" stroke-width="1.05" fill="#fff"/>
<rect x="913.9" y="373" width="8" height="35.6" stroke="#a0452a" stroke-width="1.05" fill="#fff"/>
<rect x="971.05" y="368.8" width="13.4" height="4.2" stroke="#a0452a" stroke-width="1.05" fill="#fff"/>
<rect x="973.75" y="373" width="8" height="35.6" stroke="#a0452a" stroke-width="1.05" fill="#fff"/>
<rect x="1030.9" y="368.8" width="13.4" height="4.2" stroke="#a0452a" stroke-width="1.05" fill="#fff"/>
<rect x="1033.6" y="373" width="8" height="35.6" stroke="#a0452a" stroke-width="1.05" fill="#fff"/>
<rect x="1090.75" y="368.8" width="13.4" height="4.2" stroke="#a0452a" stroke-width="1.05" fill="#fff"/>
<rect x="1093.45" y="373" width="8" height="35.6" stroke="#a0452a" stroke-width="1.05" fill="#fff"/>
<rect x="1150.6" y="368.8" width="13.4" height="4.2" stroke="#a0452a" stroke-width="1.05" fill="#fff"/>
<rect x="1153.3" y="373" width="8" height="35.6" stroke="#a0452a" stroke-width="1.05" fill="#fff"/>
<line x1="738.6" y1="299.6" x2="738.6" y2="470" stroke="#f0a0a0" stroke-width="1" stroke-dasharray="16 4 1.5 4"/>
<line x1="699" y1="386.2" x2="699" y2="402.6" stroke="#e67c7c" stroke-width="2.2"/>
<rect x="694" y="394.4" width="10" height="14.2" stroke="#f3b5b5" stroke-width="0.6" fill="none"/>
<line x1="779.2" y1="386.2" x2="779.2" y2="402.6" stroke="#e67c7c" stroke-width="2.2"/>
<rect x="774.2" y="394.4" width="10" height="14.2" stroke="#f3b5b5" stroke-width="0.6" fill="none"/>
<line x1="1038.2" y1="299.6" x2="1038.2" y2="470" stroke="#f0a0a0" stroke-width="1" stroke-dasharray="16 4 1.5 4"/>
<line x1="998.6" y1="386.2" x2="998.6" y2="402.6" stroke="#e67c7c" stroke-width="2.2"/>
<rect x="993.6" y="394.4" width="10" height="14.2" stroke="#f3b5b5" stroke-width="0.6" fill="none"/>
<line x1="1078.8" y1="386.2" x2="1078.8" y2="402.6" stroke="#e67c7c" stroke-width="2.2"/>
<rect x="1073.8" y="394.4" width="10" height="14.2" stroke="#f3b5b5" stroke-width="0.6" fill="none"/>
<line x1="580.8" y1="392" x2="580.8" y2="409" stroke="#e67c7c" stroke-width="2"/>
<line x1="576" y1="400.5" x2="586" y2="400.5" stroke="#e67c7c" stroke-width="1"/>
<path d="M533.4 345.7 L536.5 345.7 Q538.9 347 538.9 350 L538.9 400.2 L590 400.2 Q594 401 594 405.3 L533.4 405.3 Z" stroke="#2f8ee0" stroke-width="1.2" fill="url(#hb)"/>
<rect x="507.5" y="461.1" width="12.4" height="17" stroke="#a3421c" stroke-width="1.2" fill="#fff" rx="1.6"/>
<line x1="508.1" y1="465.01" x2="519.3" y2="465.01" stroke="#a3421c" stroke-width="0.85"/>
<line x1="508.1" y1="469.6" x2="519.3" y2="469.6" stroke="#a3421c" stroke-width="0.85"/>
<line x1="508.1" y1="474.19" x2="519.3" y2="474.19" stroke="#a3421c" stroke-width="0.85"/>
<line x1="510.97" y1="461.7" x2="510.97" y2="477.5" stroke="#a3421c" stroke-width="0.7"/>
<rect x="530.3" y="461.1" width="8" height="17" stroke="#a3421c" stroke-width="1.2" fill="#fff" rx="1.6"/>
<line x1="530.9" y1="465.01" x2="537.7" y2="465.01" stroke="#a3421c" stroke-width="0.85"/>
<line x1="530.9" y1="469.6" x2="537.7" y2="469.6" stroke="#a3421c" stroke-width="0.85"/>
<line x1="530.9" y1="474.19" x2="537.7" y2="474.19" stroke="#a3421c" stroke-width="0.85"/>
<line x1="532.54" y1="461.7" x2="532.54" y2="477.5" stroke="#a3421c" stroke-width="0.7"/>
<line x1="519.9" y1="465.6" x2="530.3" y2="465.6" stroke="#999" stroke-width="0.6"/>
<line x1="519.9" y1="473.6" x2="530.3" y2="473.6" stroke="#999" stroke-width="0.6"/>
<rect x="507.5" y="509.5" width="12.4" height="17" stroke="#a3421c" stroke-width="1.2" fill="#fff" rx="1.6"/>
<line x1="508.1" y1="513.41" x2="519.3" y2="513.41" stroke="#a3421c" stroke-width="0.85"/>
<line x1="508.1" y1="518" x2="519.3" y2="518" stroke="#a3421c" stroke-width="0.85"/>
<line x1="508.1" y1="522.59" x2="519.3" y2="522.59" stroke="#a3421c" stroke-width="0.85"/>
<line x1="510.97" y1="510.1" x2="510.97" y2="525.9" stroke="#a3421c" stroke-width="0.7"/>
<rect x="530.3" y="509.5" width="8" height="17" stroke="#a3421c" stroke-width="1.2" fill="#fff" rx="1.6"/>
<line x1="530.9" y1="513.41" x2="537.7" y2="513.41" stroke="#a3421c" stroke-width="0.85"/>
<line x1="530.9" y1="518" x2="537.7" y2="518" stroke="#a3421c" stroke-width="0.85"/>
<line x1="530.9" y1="522.59" x2="537.7" y2="522.59" stroke="#a3421c" stroke-width="0.85"/>
<line x1="532.54" y1="510.1" x2="532.54" y2="525.9" stroke="#a3421c" stroke-width="0.7"/>
<line x1="519.9" y1="514" x2="530.3" y2="514" stroke="#999" stroke-width="0.6"/>
<line x1="519.9" y1="522" x2="530.3" y2="522" stroke="#999" stroke-width="0.6"/>
<rect x="507.5" y="557.9" width="12.4" height="17" stroke="#a3421c" stroke-width="1.2" fill="#fff" rx="1.6"/>
<line x1="508.1" y1="561.81" x2="519.3" y2="561.81" stroke="#a3421c" stroke-width="0.85"/>
<line x1="508.1" y1="566.4" x2="519.3" y2="566.4" stroke="#a3421c" stroke-width="0.85"/>
<line x1="508.1" y1="570.99" x2="519.3" y2="570.99" stroke="#a3421c" stroke-width="0.85"/>
<line x1="510.97" y1="558.5" x2="510.97" y2="574.3" stroke="#a3421c" stroke-width="0.7"/>
<rect x="530.3" y="557.9" width="8" height="17" stroke="#a3421c" stroke-width="1.2" fill="#fff" rx="1.6"/>
<line x1="530.9" y1="561.81" x2="537.7" y2="561.81" stroke="#a3421c" stroke-width="0.85"/>
<line x1="530.9" y1="566.4" x2="537.7" y2="566.4" stroke="#a3421c" stroke-width="0.85"/>
<line x1="530.9" y1="570.99" x2="537.7" y2="570.99" stroke="#a3421c" stroke-width="0.85"/>
<line x1="532.54" y1="558.5" x2="532.54" y2="574.3" stroke="#a3421c" stroke-width="0.7"/>
<line x1="519.9" y1="562.4" x2="530.3" y2="562.4" stroke="#999" stroke-width="0.6"/>
<line x1="519.9" y1="570.4" x2="530.3" y2="570.4" stroke="#999" stroke-width="0.6"/>
<rect x="512.5" y="367.1" width="7.4" height="17" stroke="#a3421c" stroke-width="1.2" fill="#fff" rx="1.6"/>
<line x1="513.1" y1="371.01" x2="519.3" y2="371.01" stroke="#a3421c" stroke-width="0.85"/>
<line x1="513.1" y1="375.6" x2="519.3" y2="375.6" stroke="#a3421c" stroke-width="0.85"/>
<line x1="513.1" y1="380.19" x2="519.3" y2="380.19" stroke="#a3421c" stroke-width="0.85"/>
<line x1="514.57" y1="367.7" x2="514.57" y2="383.5" stroke="#a3421c" stroke-width="0.7"/>
<rect x="539.5" y="367.1" width="8.5" height="17" stroke="#a3421c" stroke-width="1.2" fill="#fff" rx="1.6"/>
<line x1="540.1" y1="371.01" x2="547.4" y2="371.01" stroke="#a3421c" stroke-width="0.85"/>
<line x1="540.1" y1="375.6" x2="547.4" y2="375.6" stroke="#a3421c" stroke-width="0.85"/>
<line x1="540.1" y1="380.19" x2="547.4" y2="380.19" stroke="#a3421c" stroke-width="0.85"/>
<line x1="541.88" y1="367.7" x2="541.88" y2="383.5" stroke="#a3421c" stroke-width="0.7"/>
<line x1="519.9" y1="371.5" x2="539" y2="371.5" stroke="#999" stroke-width="0.6"/>
<line x1="519.9" y1="379.5" x2="539" y2="379.5" stroke="#999" stroke-width="0.6"/>
<line x1="546" y1="517.8" x2="1187.4" y2="517.8" stroke="#333" stroke-width="1.3" stroke-dasharray="15 4 1.5 4"/>
<line x1="390" y1="517.8" x2="546" y2="517.8" stroke="#333" stroke-width="1.2" stroke-dasharray="15.5 5 1.5 5"/>
<line x1="1187.4" y1="331" x2="1187.4" y2="665.4" stroke="#9a9a9a" stroke-width="1" stroke-dasharray="16 6"/>
<circle cx="1624.3" cy="498.2" r="199" stroke="#9a9a9a" stroke-width="1" fill="none" stroke-dasharray="13 7"/>
<path d="M1432.04 362.42 L1391.29 313.85 L1483.21 236.71 L1523.96 285.28 Z" stroke="none" stroke-width="0" fill="url(#dotb)"/>
<line x1="1432.04" y1="362.42" x2="1391.29" y2="313.85" stroke="#2c2c9c" stroke-width="1.3"/>
<line x1="1523.96" y1="285.28" x2="1483.21" y2="236.71" stroke="#2c2c9c" stroke-width="1.3"/>
<line x1="1450.23" y1="384.09" x2="1432.04" y2="362.42" stroke="#4fa7a3" stroke-width="1.1"/>
<line x1="1542.16" y1="306.96" x2="1523.96" y2="285.28" stroke="#4fa7a3" stroke-width="1.1"/>
<line x1="1432.04" y1="362.42" x2="1523.96" y2="285.28" stroke="#4fa7a3" stroke-width="1.1"/>
<line x1="1440.33" y1="372.3" x2="1532.26" y2="295.16" stroke="#4fa7a3" stroke-width="1.5"/>
<line x1="1450.23" y1="384.09" x2="1542.16" y2="306.96" stroke="#4fa7a3" stroke-width="1.1"/>
<line x1="1469" y1="368.35" x2="1450.81" y2="346.67" stroke="#8aa" stroke-width="0.8"/>
<line x1="1478.57" y1="360.31" x2="1460.38" y2="338.63" stroke="#8aa" stroke-width="0.8"/>
<line x1="1513.81" y1="330.74" x2="1495.62" y2="309.06" stroke="#8aa" stroke-width="0.8"/>
<line x1="1523.39" y1="322.71" x2="1505.2" y2="301.03" stroke="#8aa" stroke-width="0.8"/>
<line x1="1366.77" y1="334.42" x2="1507.72" y2="216.14" stroke="#9a9a9a" stroke-width="1.1" stroke-dasharray="14 7"/>
<line x1="1488.03" y1="335.8" x2="1437.25" y2="275.28" stroke="#223" stroke-width="1" stroke-dasharray="6 4"/>
<path d="M1442.52 284.83 L1435.32 276.25 L1438.54 273.55 L1445.74 282.13 Z" stroke="#2c2c9c" stroke-width="0.9" fill="url(#hnavy)"/>
<path d="M1454.47 299.08 L1445.86 288.81 L1449.08 286.11 L1457.69 296.38 Z" stroke="#2c2c9c" stroke-width="0.9" fill="#fff"/>
<path d="M1466.24 313.09 L1457.56 302.75 L1460.78 300.05 L1469.45 310.39 Z" stroke="#2c2c9c" stroke-width="0.9" fill="url(#hnavy)"/>
<path d="M1476.84 325.73 L1470.41 318.07 L1473.63 315.37 L1480.06 323.03 Z" stroke="#2c2c9c" stroke-width="0.9" fill="url(#hnavy)"/>
<path d="M1456.63 325.6 L1463.14 321.7 L1471.57 316.19 L1477.32 311.37 L1478.16 309.1 L1476.05 307.21 L1471.81 310.25 L1463.26 318.73 Z" stroke="none" stroke-width="0" fill="#e8491e"/>
<line x1="1585.03" y1="455.44" x2="1496.96" y2="350.49" stroke="#4fa7a3" stroke-width="0.9" stroke-dasharray="10 3 2 3"/>
<line x1="1589.01" y1="452.1" x2="1500.95" y2="347.15" stroke="#4fa7a3" stroke-width="0.9" stroke-dasharray="10 3 2 3"/>
<line x1="1585.03" y1="455.44" x2="1589.01" y2="452.1" stroke="#4fa7a3" stroke-width="0.9"/>
<line x1="1624.3" y1="498.2" x2="1488.03" y2="335.8" stroke="#1a1a1a" stroke-width="1" stroke-dasharray="16 5 1.5 5"/>
<path d="M1432.04 633.98 L1391.29 682.55 L1483.21 759.69 L1523.96 711.12 Z" stroke="none" stroke-width="0" fill="url(#dotb)"/>
<line x1="1432.04" y1="633.98" x2="1391.29" y2="682.55" stroke="#2c2c9c" stroke-width="1.3"/>
<line x1="1523.96" y1="711.12" x2="1483.21" y2="759.69" stroke="#2c2c9c" stroke-width="1.3"/>
<line x1="1450.23" y1="612.31" x2="1432.04" y2="633.98" stroke="#4fa7a3" stroke-width="1.1"/>
<line x1="1542.16" y1="689.44" x2="1523.96" y2="711.12" stroke="#4fa7a3" stroke-width="1.1"/>
<line x1="1432.04" y1="633.98" x2="1523.96" y2="711.12" stroke="#4fa7a3" stroke-width="1.1"/>
<line x1="1440.33" y1="624.1" x2="1532.26" y2="701.24" stroke="#4fa7a3" stroke-width="1.5"/>
<line x1="1450.23" y1="612.31" x2="1542.16" y2="689.44" stroke="#4fa7a3" stroke-width="1.1"/>
<line x1="1469" y1="628.05" x2="1450.81" y2="649.73" stroke="#8aa" stroke-width="0.8"/>
<line x1="1478.57" y1="636.09" x2="1460.38" y2="657.77" stroke="#8aa" stroke-width="0.8"/>
<line x1="1513.81" y1="665.66" x2="1495.62" y2="687.34" stroke="#8aa" stroke-width="0.8"/>
<line x1="1523.39" y1="673.69" x2="1505.2" y2="695.37" stroke="#8aa" stroke-width="0.8"/>
<line x1="1366.77" y1="661.98" x2="1507.72" y2="780.26" stroke="#9a9a9a" stroke-width="1.1" stroke-dasharray="14 7"/>
<line x1="1488.03" y1="660.6" x2="1437.25" y2="721.12" stroke="#223" stroke-width="1" stroke-dasharray="6 4"/>
<path d="M1442.52 711.57 L1435.32 720.15 L1438.54 722.85 L1445.74 714.27 Z" stroke="#2c2c9c" stroke-width="0.9" fill="url(#hnavy)"/>
<path d="M1454.47 697.32 L1445.86 707.59 L1449.08 710.29 L1457.69 700.02 Z" stroke="#2c2c9c" stroke-width="0.9" fill="#fff"/>
<path d="M1466.24 683.31 L1457.56 693.65 L1460.78 696.35 L1469.45 686.01 Z" stroke="#2c2c9c" stroke-width="0.9" fill="url(#hnavy)"/>
<path d="M1476.84 670.67 L1470.41 678.33 L1473.63 681.03 L1480.06 673.37 Z" stroke="#2c2c9c" stroke-width="0.9" fill="url(#hnavy)"/>
<path d="M1483.44 693.3 L1478.46 687.56 L1471.57 680.21 L1465.83 675.39 L1463.45 674.96 L1461.95 677.36 L1465.68 681.01 L1475.52 687.96 Z" stroke="none" stroke-width="0" fill="#e8491e"/>
<line x1="1585.03" y1="540.96" x2="1496.96" y2="645.91" stroke="#4fa7a3" stroke-width="0.9" stroke-dasharray="10 3 2 3"/>
<line x1="1589.01" y1="544.3" x2="1500.95" y2="649.25" stroke="#4fa7a3" stroke-width="0.9" stroke-dasharray="10 3 2 3"/>
<line x1="1585.03" y1="540.96" x2="1589.01" y2="544.3" stroke="#4fa7a3" stroke-width="0.9"/>
<line x1="1624.3" y1="498.2" x2="1488.03" y2="660.6" stroke="#1a1a1a" stroke-width="1" stroke-dasharray="16 5 1.5 5"/>
<path d="M1816.56 362.42 L1857.31 313.85 L1765.39 236.71 L1724.64 285.28 Z" stroke="none" stroke-width="0" fill="url(#dotb)"/>
<line x1="1816.56" y1="362.42" x2="1857.31" y2="313.85" stroke="#2c2c9c" stroke-width="1.3"/>
<line x1="1724.64" y1="285.28" x2="1765.39" y2="236.71" stroke="#2c2c9c" stroke-width="1.3"/>
<line x1="1798.37" y1="384.09" x2="1816.56" y2="362.42" stroke="#4fa7a3" stroke-width="1.1"/>
<line x1="1706.44" y1="306.96" x2="1724.64" y2="285.28" stroke="#4fa7a3" stroke-width="1.1"/>
<line x1="1816.56" y1="362.42" x2="1724.64" y2="285.28" stroke="#4fa7a3" stroke-width="1.1"/>
<line x1="1808.27" y1="372.3" x2="1716.34" y2="295.16" stroke="#4fa7a3" stroke-width="1.5"/>
<line x1="1798.37" y1="384.09" x2="1706.44" y2="306.96" stroke="#4fa7a3" stroke-width="1.1"/>
<line x1="1779.6" y1="368.35" x2="1797.79" y2="346.67" stroke="#8aa" stroke-width="0.8"/>
<line x1="1770.03" y1="360.31" x2="1788.22" y2="338.63" stroke="#8aa" stroke-width="0.8"/>
<line x1="1734.79" y1="330.74" x2="1752.98" y2="309.06" stroke="#8aa" stroke-width="0.8"/>
<line x1="1725.21" y1="322.71" x2="1743.4" y2="301.03" stroke="#8aa" stroke-width="0.8"/>
<line x1="1881.83" y1="334.42" x2="1740.88" y2="216.14" stroke="#9a9a9a" stroke-width="1.1" stroke-dasharray="14 7"/>
<line x1="1760.57" y1="335.8" x2="1811.35" y2="275.28" stroke="#223" stroke-width="1" stroke-dasharray="6 4"/>
<path d="M1806.08 284.83 L1813.28 276.25 L1810.06 273.55 L1802.86 282.13 Z" stroke="#2c2c9c" stroke-width="0.9" fill="url(#hnavy)"/>
<path d="M1794.13 299.08 L1802.74 288.81 L1799.52 286.11 L1790.91 296.38 Z" stroke="#2c2c9c" stroke-width="0.9" fill="#fff"/>
<path d="M1782.36 313.09 L1791.04 302.75 L1787.82 300.05 L1779.15 310.39 Z" stroke="#2c2c9c" stroke-width="0.9" fill="url(#hnavy)"/>
<path d="M1771.76 325.73 L1778.19 318.07 L1774.97 315.37 L1768.54 323.03 Z" stroke="#2c2c9c" stroke-width="0.9" fill="url(#hnavy)"/>
<path d="M1791.97 325.6 L1785.46 321.7 L1777.03 316.19 L1771.28 311.37 L1770.44 309.1 L1772.55 307.21 L1776.79 310.25 L1785.34 318.73 Z" stroke="none" stroke-width="0" fill="#e8491e"/>
<line x1="1663.57" y1="455.44" x2="1751.64" y2="350.49" stroke="#4fa7a3" stroke-width="0.9" stroke-dasharray="10 3 2 3"/>
<line x1="1659.59" y1="452.1" x2="1747.65" y2="347.15" stroke="#4fa7a3" stroke-width="0.9" stroke-dasharray="10 3 2 3"/>
<line x1="1663.57" y1="455.44" x2="1659.59" y2="452.1" stroke="#4fa7a3" stroke-width="0.9"/>
<line x1="1624.3" y1="498.2" x2="1760.57" y2="335.8" stroke="#1a1a1a" stroke-width="1" stroke-dasharray="16 5 1.5 5"/>
<path d="M1816.56 633.98 L1857.31 682.55 L1765.39 759.69 L1724.64 711.12 Z" stroke="none" stroke-width="0" fill="url(#dotb)"/>
<line x1="1816.56" y1="633.98" x2="1857.31" y2="682.55" stroke="#2c2c9c" stroke-width="1.3"/>
<line x1="1724.64" y1="711.12" x2="1765.39" y2="759.69" stroke="#2c2c9c" stroke-width="1.3"/>
<line x1="1798.37" y1="612.31" x2="1816.56" y2="633.98" stroke="#4fa7a3" stroke-width="1.1"/>
<line x1="1706.44" y1="689.44" x2="1724.64" y2="711.12" stroke="#4fa7a3" stroke-width="1.1"/>
<line x1="1816.56" y1="633.98" x2="1724.64" y2="711.12" stroke="#4fa7a3" stroke-width="1.1"/>
<line x1="1808.27" y1="624.1" x2="1716.34" y2="701.24" stroke="#4fa7a3" stroke-width="1.5"/>
<line x1="1798.37" y1="612.31" x2="1706.44" y2="689.44" stroke="#4fa7a3" stroke-width="1.1"/>
<line x1="1779.6" y1="628.05" x2="1797.79" y2="649.73" stroke="#8aa" stroke-width="0.8"/>
<line x1="1770.03" y1="636.09" x2="1788.22" y2="657.77" stroke="#8aa" stroke-width="0.8"/>
<line x1="1734.79" y1="665.66" x2="1752.98" y2="687.34" stroke="#8aa" stroke-width="0.8"/>
<line x1="1725.21" y1="673.69" x2="1743.4" y2="695.37" stroke="#8aa" stroke-width="0.8"/>
<line x1="1881.83" y1="661.98" x2="1740.88" y2="780.26" stroke="#9a9a9a" stroke-width="1.1" stroke-dasharray="14 7"/>
<line x1="1760.57" y1="660.6" x2="1811.35" y2="721.12" stroke="#223" stroke-width="1" stroke-dasharray="6 4"/>
<path d="M1806.08 711.57 L1813.28 720.15 L1810.06 722.85 L1802.86 714.27 Z" stroke="#2c2c9c" stroke-width="0.9" fill="url(#hnavy)"/>
<path d="M1794.13 697.32 L1802.74 707.59 L1799.52 710.29 L1790.91 700.02 Z" stroke="#2c2c9c" stroke-width="0.9" fill="#fff"/>
<path d="M1782.36 683.31 L1791.04 693.65 L1787.82 696.35 L1779.15 686.01 Z" stroke="#2c2c9c" stroke-width="0.9" fill="url(#hnavy)"/>
<path d="M1771.76 670.67 L1778.19 678.33 L1774.97 681.03 L1768.54 673.37 Z" stroke="#2c2c9c" stroke-width="0.9" fill="url(#hnavy)"/>
<path d="M1765.16 693.3 L1770.14 687.56 L1777.03 680.21 L1782.77 675.39 L1785.15 674.96 L1786.65 677.36 L1782.92 681.01 L1773.08 687.96 Z" stroke="none" stroke-width="0" fill="#e8491e"/>
<line x1="1663.57" y1="540.96" x2="1751.64" y2="645.91" stroke="#4fa7a3" stroke-width="0.9" stroke-dasharray="10 3 2 3"/>
<line x1="1659.59" y1="544.3" x2="1747.65" y2="649.25" stroke="#4fa7a3" stroke-width="0.9" stroke-dasharray="10 3 2 3"/>
<line x1="1663.57" y1="540.96" x2="1659.59" y2="544.3" stroke="#4fa7a3" stroke-width="0.9"/>
<line x1="1624.3" y1="498.2" x2="1760.57" y2="660.6" stroke="#1a1a1a" stroke-width="1" stroke-dasharray="16 5 1.5 5"/>
<path d="M1542.16 306.96 A111 111 0 0 0 1706.44 306.96" stroke="#2c2c9c" stroke-width="1.3" fill="none"/>
<path d="M1542.16 689.44 A111 111 0 0 1 1706.44 689.44" stroke="#2c2c9c" stroke-width="1.3" fill="none"/>
<path d="M1450.23 384.09 A182.5 182.5 0 0 1 1450.23 612.31" stroke="#2c2c9c" stroke-width="1.3" fill="none"/>
<path d="M1798.37 384.09 A182.5 182.5 0 0 0 1798.37 612.31" stroke="#2c2c9c" stroke-width="1.3" fill="none"/>
<line x1="1384.3" y1="498.2" x2="1864.3" y2="498.2" stroke="#1a1a1a" stroke-width="1.1" stroke-dasharray="18 6 1.5 6"/>
<line x1="1624.3" y1="258.2" x2="1624.3" y2="738.2" stroke="#1a1a1a" stroke-width="1.1" stroke-dasharray="18 6 1.5 6"/>
<line x1="1610.16" y1="481.35" x2="1638.44" y2="515.05" stroke="#1a1a1a" stroke-width="1"/>
<line x1="1638.44" y1="481.35" x2="1610.16" y2="515.05" stroke="#1a1a1a" stroke-width="1"/>
<line x1="1310.8" y1="345.4" x2="2018.7" y2="345.4" stroke="#3d86b8" stroke-width="1.3"/>
<line x1="2027.4" y1="345.4" x2="2141.6" y2="345.4" stroke="#3d86b8" stroke-width="1.3"/>
<line x1="2018.7" y1="345.4" x2="2018.7" y2="363" stroke="#3d86b8" stroke-width="1.2"/>
<line x1="2027.4" y1="345.4" x2="2027.4" y2="363" stroke="#3d86b8" stroke-width="1.2"/>
<line x1="1310.8" y1="363" x2="2141.6" y2="363" stroke="#c9562b" stroke-width="1.6"/>
<line x1="1310.8" y1="400.7" x2="2141.6" y2="400.7" stroke="#3d86b8" stroke-width="1.3"/>
<line x1="1310.8" y1="405.4" x2="2141.6" y2="405.4" stroke="#3d86b8" stroke-width="1.3"/>
<rect x="2018.4" y="363" width="9.6" height="42.4" stroke="#4fa7a3" stroke-width="0.9" fill="url(#ht)"/>
<rect x="2009.9" y="376.5" width="8.5" height="12" stroke="#a3421c" stroke-width="1.2" fill="#fff" rx="1.6"/>
<line x1="2010.5" y1="379.26" x2="2017.8" y2="379.26" stroke="#a3421c" stroke-width="0.85"/>
<line x1="2010.5" y1="382.5" x2="2017.8" y2="382.5" stroke="#a3421c" stroke-width="0.85"/>
<line x1="2010.5" y1="385.74" x2="2017.8" y2="385.74" stroke="#a3421c" stroke-width="0.85"/>
<line x1="2012.28" y1="377.1" x2="2012.28" y2="387.9" stroke="#a3421c" stroke-width="0.7"/>
<rect x="2027.6" y="376.5" width="6" height="12" stroke="#a3421c" stroke-width="1.2" fill="#fff" rx="1.6"/>
<line x1="2028.2" y1="379.26" x2="2033" y2="379.26" stroke="#a3421c" stroke-width="0.85"/>
<line x1="2028.2" y1="382.5" x2="2033" y2="382.5" stroke="#a3421c" stroke-width="0.85"/>
<line x1="2028.2" y1="385.74" x2="2033" y2="385.74" stroke="#a3421c" stroke-width="0.85"/>
<line x1="2029.28" y1="377.1" x2="2029.28" y2="387.9" stroke="#a3421c" stroke-width="0.7"/>
<line x1="2018" y1="382.5" x2="2028" y2="382.5" stroke="#a3421c" stroke-width="0.8"/>
<line x1="1310.8" y1="328.8" x2="1310.8" y2="423.6" stroke="#9a9a9a" stroke-width="1" stroke-dasharray="16 6"/>
<line x1="2141.6" y1="328.8" x2="2141.6" y2="423.6" stroke="#9a9a9a" stroke-width="1" stroke-dasharray="16 6"/>
<rect x="1318.5" y="370.6" width="13.4" height="4.2" stroke="#a0452a" stroke-width="1.05" fill="#fff"/>
<rect x="1321.2" y="374.8" width="8" height="25.9" stroke="#a0452a" stroke-width="1.05" fill="#fff"/>
<rect x="1378.4" y="370.6" width="13.4" height="4.2" stroke="#a0452a" stroke-width="1.05" fill="#fff"/>
<rect x="1381.1" y="374.8" width="8" height="25.9" stroke="#a0452a" stroke-width="1.05" fill="#fff"/>
<rect x="1438.3" y="370.6" width="13.4" height="4.2" stroke="#a0452a" stroke-width="1.05" fill="#fff"/>
<rect x="1441" y="374.8" width="8" height="25.9" stroke="#a0452a" stroke-width="1.05" fill="#fff"/>
<rect x="1498.2" y="370.6" width="13.4" height="4.2" stroke="#a0452a" stroke-width="1.05" fill="#fff"/>
<rect x="1500.9" y="374.8" width="8" height="25.9" stroke="#a0452a" stroke-width="1.05" fill="#fff"/>
<rect x="1737.8" y="370.6" width="13.4" height="4.2" stroke="#a0452a" stroke-width="1.05" fill="#fff"/>
<rect x="1740.5" y="374.8" width="8" height="25.9" stroke="#a0452a" stroke-width="1.05" fill="#fff"/>
<rect x="1797.7" y="370.6" width="13.4" height="4.2" stroke="#a0452a" stroke-width="1.05" fill="#fff"/>
<rect x="1800.4" y="374.8" width="8" height="25.9" stroke="#a0452a" stroke-width="1.05" fill="#fff"/>
<rect x="1857.6" y="370.6" width="13.4" height="4.2" stroke="#a0452a" stroke-width="1.05" fill="#fff"/>
<rect x="1860.3" y="374.8" width="8" height="25.9" stroke="#a0452a" stroke-width="1.05" fill="#fff"/>
<rect x="1917.5" y="370.6" width="13.4" height="4.2" stroke="#a0452a" stroke-width="1.05" fill="#fff"/>
<rect x="1920.2" y="374.8" width="8" height="25.9" stroke="#a0452a" stroke-width="1.05" fill="#fff"/>
<rect x="1977.4" y="370.6" width="13.4" height="4.2" stroke="#a0452a" stroke-width="1.05" fill="#fff"/>
<rect x="1980.1" y="374.8" width="8" height="25.9" stroke="#a0452a" stroke-width="1.05" fill="#fff"/>
<rect x="2037.3" y="370.6" width="13.4" height="4.2" stroke="#a0452a" stroke-width="1.05" fill="#fff"/>
<rect x="2040" y="374.8" width="8" height="25.9" stroke="#a0452a" stroke-width="1.05" fill="#fff"/>
<rect x="2097.2" y="370.6" width="13.4" height="4.2" stroke="#a0452a" stroke-width="1.05" fill="#fff"/>
<rect x="2099.9" y="374.8" width="8" height="25.9" stroke="#a0452a" stroke-width="1.05" fill="#fff"/>
<circle cx="1564.6" cy="375.4" r="9.3" stroke="#a3421c" stroke-width="2" fill="none"/>
<circle cx="1564.6" cy="375.4" r="5.6" stroke="#a3421c" stroke-width="1.1" fill="none"/>
<line x1="1554.3" y1="375.4" x2="1574.9" y2="375.4" stroke="#a3421c" stroke-width="0.6"/>
<line x1="1564.6" y1="365.1" x2="1564.6" y2="385.7" stroke="#a3421c" stroke-width="0.6"/>
<line x1="1560" y1="375.4" x2="1569.2" y2="375.4" stroke="#888" stroke-width="0.8"/>
<line x1="1564.6" y1="370.8" x2="1564.6" y2="380" stroke="#888" stroke-width="0.8"/>
<circle cx="1594.45" cy="375.4" r="9.3" stroke="#a3421c" stroke-width="2" fill="none"/>
<circle cx="1594.45" cy="375.4" r="5.6" stroke="#a3421c" stroke-width="1.1" fill="none"/>
<line x1="1584.15" y1="375.4" x2="1604.75" y2="375.4" stroke="#a3421c" stroke-width="0.6"/>
<line x1="1594.45" y1="365.1" x2="1594.45" y2="385.7" stroke="#a3421c" stroke-width="0.6"/>
<line x1="1589.85" y1="375.4" x2="1599.05" y2="375.4" stroke="#888" stroke-width="0.8"/>
<line x1="1594.45" y1="370.8" x2="1594.45" y2="380" stroke="#888" stroke-width="0.8"/>
<circle cx="1624.3" cy="375.4" r="9.3" stroke="#a3421c" stroke-width="2" fill="none"/>
<circle cx="1624.3" cy="375.4" r="5.6" stroke="#a3421c" stroke-width="1.1" fill="none"/>
<line x1="1614" y1="375.4" x2="1634.6" y2="375.4" stroke="#a3421c" stroke-width="0.6"/>
<line x1="1624.3" y1="365.1" x2="1624.3" y2="385.7" stroke="#a3421c" stroke-width="0.6"/>
<line x1="1619.7" y1="375.4" x2="1628.9" y2="375.4" stroke="#888" stroke-width="0.8"/>
<line x1="1624.3" y1="370.8" x2="1624.3" y2="380" stroke="#888" stroke-width="0.8"/>
<circle cx="1654.15" cy="375.4" r="9.3" stroke="#a3421c" stroke-width="2" fill="none"/>
<circle cx="1654.15" cy="375.4" r="5.6" stroke="#a3421c" stroke-width="1.1" fill="none"/>
<line x1="1643.85" y1="375.4" x2="1664.45" y2="375.4" stroke="#a3421c" stroke-width="0.6"/>
<line x1="1654.15" y1="365.1" x2="1654.15" y2="385.7" stroke="#a3421c" stroke-width="0.6"/>
<line x1="1649.55" y1="375.4" x2="1658.75" y2="375.4" stroke="#888" stroke-width="0.8"/>
<line x1="1654.15" y1="370.8" x2="1654.15" y2="380" stroke="#888" stroke-width="0.8"/>
<circle cx="1684" cy="375.4" r="9.3" stroke="#a3421c" stroke-width="2" fill="none"/>
<circle cx="1684" cy="375.4" r="5.6" stroke="#a3421c" stroke-width="1.1" fill="none"/>
<line x1="1673.7" y1="375.4" x2="1694.3" y2="375.4" stroke="#a3421c" stroke-width="0.6"/>
<line x1="1684" y1="365.1" x2="1684" y2="385.7" stroke="#a3421c" stroke-width="0.6"/>
<line x1="1679.4" y1="375.4" x2="1688.6" y2="375.4" stroke="#888" stroke-width="0.8"/>
<line x1="1684" y1="370.8" x2="1684" y2="380" stroke="#888" stroke-width="0.8"/>
<line x1="1544.2" y1="345.4" x2="1544.2" y2="400.8" stroke="#4fa7a3" stroke-width="1" stroke-dasharray="10 4 2 4"/>
<line x1="1704.4" y1="345.4" x2="1704.4" y2="400.8" stroke="#4fa7a3" stroke-width="1" stroke-dasharray="10 4 2 4"/>
<rect x="1584.4" y="438.1" width="80.3" height="159.7" stroke="#4fa7a3" stroke-width="1.1" fill="none"/>
<rect x="1582.5" y="408.6" width="83.9" height="6.6" stroke="#c67ed2" stroke-width="1" fill="none" stroke-dasharray="7 4"/>
<path d="M1621.8 427.5 L1621.8 613 Q1621.8 620.3 1614 620.3 L1582.5 620.3 L1582.5 628.1 L1666.4 628.1 L1666.4 620.3 L1634.6 620.3 Q1626.8 620.3 1626.8 613 L1626.8 427.5 Z" stroke="#c67ed2" stroke-width="1" fill="url(#hp)"/>
<path d="M1612.9 415.2 Q1621.8 415.2 1621.8 427" stroke="#c67ed2" stroke-width="1" fill="none" stroke-dasharray="4 3"/>
<path d="M1635.7 415.2 Q1626.8 415.2 1626.8 427" stroke="#c67ed2" stroke-width="1" fill="none" stroke-dasharray="4 3"/>
<line x1="1624.3" y1="415" x2="1624.3" y2="628" stroke="#444" stroke-width="0.8" stroke-dasharray="6 3"/>
<circle cx="1602.4" cy="469.9" r="9" stroke="#a3421c" stroke-width="2" fill="none"/>
<circle cx="1602.4" cy="469.9" r="5.4" stroke="#a3421c" stroke-width="1.1" fill="none"/>
<line x1="1592.4" y1="469.9" x2="1612.4" y2="469.9" stroke="#a3421c" stroke-width="0.6"/>
<line x1="1602.4" y1="459.9" x2="1602.4" y2="479.9" stroke="#a3421c" stroke-width="0.6"/>
<line x1="1598" y1="469.9" x2="1606.8" y2="469.9" stroke="#888" stroke-width="0.8"/>
<line x1="1602.4" y1="465.5" x2="1602.4" y2="474.3" stroke="#888" stroke-width="0.8"/>
<circle cx="1602.4" cy="517.8" r="9" stroke="#a3421c" stroke-width="2" fill="none"/>
<circle cx="1602.4" cy="517.8" r="5.4" stroke="#a3421c" stroke-width="1.1" fill="none"/>
<line x1="1592.4" y1="517.8" x2="1612.4" y2="517.8" stroke="#a3421c" stroke-width="0.6"/>
<line x1="1602.4" y1="507.8" x2="1602.4" y2="527.8" stroke="#a3421c" stroke-width="0.6"/>
<line x1="1598" y1="517.8" x2="1606.8" y2="517.8" stroke="#888" stroke-width="0.8"/>
<line x1="1602.4" y1="513.4" x2="1602.4" y2="522.2" stroke="#888" stroke-width="0.8"/>
<circle cx="1602.4" cy="565.6" r="9" stroke="#a3421c" stroke-width="2" fill="none"/>
<circle cx="1602.4" cy="565.6" r="5.4" stroke="#a3421c" stroke-width="1.1" fill="none"/>
<line x1="1592.4" y1="565.6" x2="1612.4" y2="565.6" stroke="#a3421c" stroke-width="0.6"/>
<line x1="1602.4" y1="555.6" x2="1602.4" y2="575.6" stroke="#a3421c" stroke-width="0.6"/>
<line x1="1598" y1="565.6" x2="1606.8" y2="565.6" stroke="#888" stroke-width="0.8"/>
<line x1="1602.4" y1="561.2" x2="1602.4" y2="570" stroke="#888" stroke-width="0.8"/>
<circle cx="1646" cy="469.9" r="9" stroke="#a3421c" stroke-width="2" fill="none"/>
<circle cx="1646" cy="469.9" r="5.4" stroke="#a3421c" stroke-width="1.1" fill="none"/>
<line x1="1636" y1="469.9" x2="1656" y2="469.9" stroke="#a3421c" stroke-width="0.6"/>
<line x1="1646" y1="459.9" x2="1646" y2="479.9" stroke="#a3421c" stroke-width="0.6"/>
<line x1="1641.6" y1="469.9" x2="1650.4" y2="469.9" stroke="#888" stroke-width="0.8"/>
<line x1="1646" y1="465.5" x2="1646" y2="474.3" stroke="#888" stroke-width="0.8"/>
<circle cx="1646" cy="517.8" r="9" stroke="#a3421c" stroke-width="2" fill="none"/>
<circle cx="1646" cy="517.8" r="5.4" stroke="#a3421c" stroke-width="1.1" fill="none"/>
<line x1="1636" y1="517.8" x2="1656" y2="517.8" stroke="#a3421c" stroke-width="0.6"/>
<line x1="1646" y1="507.8" x2="1646" y2="527.8" stroke="#a3421c" stroke-width="0.6"/>
<line x1="1641.6" y1="517.8" x2="1650.4" y2="517.8" stroke="#888" stroke-width="0.8"/>
<line x1="1646" y1="513.4" x2="1646" y2="522.2" stroke="#888" stroke-width="0.8"/>
<circle cx="1646" cy="565.6" r="9" stroke="#a3421c" stroke-width="2" fill="none"/>
<circle cx="1646" cy="565.6" r="5.4" stroke="#a3421c" stroke-width="1.1" fill="none"/>
<line x1="1636" y1="565.6" x2="1656" y2="565.6" stroke="#a3421c" stroke-width="0.6"/>
<line x1="1646" y1="555.6" x2="1646" y2="575.6" stroke="#a3421c" stroke-width="0.6"/>
<line x1="1641.6" y1="565.6" x2="1650.4" y2="565.6" stroke="#888" stroke-width="0.8"/>
<line x1="1646" y1="561.2" x2="1646" y2="570" stroke="#888" stroke-width="0.8"/>
<line x1="1582" y1="517.8" x2="1667" y2="517.8" stroke="#333" stroke-width="1.1" stroke-dasharray="14 4"/>
<line x1="533.4" y1="803.5" x2="533.4" y2="1455.5" stroke="#3d86b8" stroke-width="1.2"/>
<line x1="538.2" y1="803.5" x2="538.2" y2="1455.5" stroke="#3d86b8" stroke-width="1.2"/>
<line x1="593.6" y1="803.5" x2="593.6" y2="1455.5" stroke="#3d86b8" stroke-width="1.2"/>
<line x1="533.4" y1="1462.7" x2="533.4" y2="1546.6" stroke="#3d86b8" stroke-width="1.2"/>
<line x1="538.2" y1="1462.7" x2="538.2" y2="1546.6" stroke="#3d86b8" stroke-width="1.2"/>
<line x1="593.6" y1="1462.7" x2="593.6" y2="1546.6" stroke="#3d86b8" stroke-width="1.2"/>
<line x1="514" y1="803.5" x2="606" y2="803.5" stroke="#9a9a9a" stroke-width="1" stroke-dasharray="13 6"/>
<line x1="514" y1="1455.5" x2="606" y2="1455.5" stroke="#9a9a9a" stroke-width="1" stroke-dasharray="13 6"/>
<line x1="514" y1="1462.7" x2="606" y2="1462.7" stroke="#9a9a9a" stroke-width="1" stroke-dasharray="13 6"/>
<line x1="514" y1="1546.6" x2="606" y2="1546.6" stroke="#9a9a9a" stroke-width="1" stroke-dasharray="13 6"/>
<line x1="533.4" y1="835.7" x2="593.6" y2="835.7" stroke="#4fa7a3" stroke-width="1"/>
<line x1="533.4" y1="839.7" x2="593.6" y2="839.7" stroke="#4fa7a3" stroke-width="1.8"/>
<line x1="533.4" y1="844.2" x2="593.6" y2="844.2" stroke="#4fa7a3" stroke-width="1"/>
<rect x="543.2" y="828.2" width="13.2" height="6" stroke="#a3421c" stroke-width="1.1" fill="#fff"/>
<line x1="546.5" y1="828.2" x2="546.5" y2="834.2" stroke="#a3421c" stroke-width="0.8"/>
<line x1="549.8" y1="828.2" x2="549.8" y2="834.2" stroke="#a3421c" stroke-width="0.8"/>
<line x1="553.1" y1="828.2" x2="553.1" y2="834.2" stroke="#a3421c" stroke-width="0.8"/>
<rect x="543.2" y="843" width="13.2" height="6" stroke="#a3421c" stroke-width="1.1" fill="#fff"/>
<rect x="545.3" y="849" width="9" height="2.6" stroke="#a3421c" stroke-width="1" fill="#fff"/>
<line x1="546.5" y1="843" x2="546.5" y2="851.6" stroke="#a3421c" stroke-width="0.8"/>
<line x1="549.8" y1="843" x2="549.8" y2="851.6" stroke="#a3421c" stroke-width="0.8"/>
<line x1="553.1" y1="843" x2="553.1" y2="851.6" stroke="#a3421c" stroke-width="0.8"/>
<line x1="548.6" y1="834.2" x2="548.6" y2="843" stroke="#888" stroke-width="0.7"/>
<line x1="551" y1="834.2" x2="551" y2="843" stroke="#888" stroke-width="0.7"/>
<rect x="571" y="828.2" width="13.2" height="6" stroke="#a3421c" stroke-width="1.1" fill="#fff"/>
<line x1="574.3" y1="828.2" x2="574.3" y2="834.2" stroke="#a3421c" stroke-width="0.8"/>
<line x1="577.6" y1="828.2" x2="577.6" y2="834.2" stroke="#a3421c" stroke-width="0.8"/>
<line x1="580.9" y1="828.2" x2="580.9" y2="834.2" stroke="#a3421c" stroke-width="0.8"/>
<rect x="571" y="843" width="13.2" height="6" stroke="#a3421c" stroke-width="1.1" fill="#fff"/>
<rect x="573.1" y="849" width="9" height="2.6" stroke="#a3421c" stroke-width="1" fill="#fff"/>
<line x1="574.3" y1="843" x2="574.3" y2="851.6" stroke="#a3421c" stroke-width="0.8"/>
<line x1="577.6" y1="843" x2="577.6" y2="851.6" stroke="#a3421c" stroke-width="0.8"/>
<line x1="580.9" y1="843" x2="580.9" y2="851.6" stroke="#a3421c" stroke-width="0.8"/>
<line x1="576.4" y1="834.2" x2="576.4" y2="843" stroke="#888" stroke-width="0.7"/>
<line x1="578.8" y1="834.2" x2="578.8" y2="843" stroke="#888" stroke-width="0.7"/>
<line x1="533.4" y1="1500.8" x2="593.6" y2="1500.8" stroke="#4fa7a3" stroke-width="1"/>
<line x1="533.4" y1="1504.8" x2="593.6" y2="1504.8" stroke="#4fa7a3" stroke-width="1.8"/>
<line x1="533.4" y1="1509.3" x2="593.6" y2="1509.3" stroke="#4fa7a3" stroke-width="1"/>
<rect x="543.2" y="1493.3" width="13.2" height="6" stroke="#a3421c" stroke-width="1.1" fill="#fff"/>
<line x1="546.5" y1="1493.3" x2="546.5" y2="1499.3" stroke="#a3421c" stroke-width="0.8"/>
<line x1="549.8" y1="1493.3" x2="549.8" y2="1499.3" stroke="#a3421c" stroke-width="0.8"/>
<line x1="553.1" y1="1493.3" x2="553.1" y2="1499.3" stroke="#a3421c" stroke-width="0.8"/>
<rect x="543.2" y="1508.1" width="13.2" height="6" stroke="#a3421c" stroke-width="1.1" fill="#fff"/>
<rect x="545.3" y="1514.1" width="9" height="2.6" stroke="#a3421c" stroke-width="1" fill="#fff"/>
<line x1="546.5" y1="1508.1" x2="546.5" y2="1516.7" stroke="#a3421c" stroke-width="0.8"/>
<line x1="549.8" y1="1508.1" x2="549.8" y2="1516.7" stroke="#a3421c" stroke-width="0.8"/>
<line x1="553.1" y1="1508.1" x2="553.1" y2="1516.7" stroke="#a3421c" stroke-width="0.8"/>
<line x1="548.6" y1="1499.3" x2="548.6" y2="1508.1" stroke="#888" stroke-width="0.7"/>
<line x1="551" y1="1499.3" x2="551" y2="1508.1" stroke="#888" stroke-width="0.7"/>
<rect x="571" y="1493.3" width="13.2" height="6" stroke="#a3421c" stroke-width="1.1" fill="#fff"/>
<line x1="574.3" y1="1493.3" x2="574.3" y2="1499.3" stroke="#a3421c" stroke-width="0.8"/>
<line x1="577.6" y1="1493.3" x2="577.6" y2="1499.3" stroke="#a3421c" stroke-width="0.8"/>
<line x1="580.9" y1="1493.3" x2="580.9" y2="1499.3" stroke="#a3421c" stroke-width="0.8"/>
<rect x="571" y="1508.1" width="13.2" height="6" stroke="#a3421c" stroke-width="1.1" fill="#fff"/>
<rect x="573.1" y="1514.1" width="9" height="2.6" stroke="#a3421c" stroke-width="1" fill="#fff"/>
<line x1="574.3" y1="1508.1" x2="574.3" y2="1516.7" stroke="#a3421c" stroke-width="0.8"/>
<line x1="577.6" y1="1508.1" x2="577.6" y2="1516.7" stroke="#a3421c" stroke-width="0.8"/>
<line x1="580.9" y1="1508.1" x2="580.9" y2="1516.7" stroke="#a3421c" stroke-width="0.8"/>
<line x1="576.4" y1="1499.3" x2="576.4" y2="1508.1" stroke="#888" stroke-width="0.7"/>
<line x1="578.8" y1="1499.3" x2="578.8" y2="1508.1" stroke="#888" stroke-width="0.7"/>
<circle cx="563.7" cy="819.7" r="4.1" stroke="#a3421c" stroke-width="1" fill="none"/>
<circle cx="563.7" cy="879.55" r="4.1" stroke="#a3421c" stroke-width="1" fill="none"/>
<circle cx="563.7" cy="939.4" r="4.1" stroke="#a3421c" stroke-width="1" fill="none"/>
<circle cx="563.7" cy="999.25" r="4.1" stroke="#a3421c" stroke-width="1" fill="none"/>
<circle cx="563.7" cy="1059.1" r="4.1" stroke="#a3421c" stroke-width="1" fill="none"/>
<circle cx="563.7" cy="1118.95" r="4.1" stroke="#a3421c" stroke-width="1" fill="none"/>
<circle cx="563.7" cy="1358.35" r="4.1" stroke="#a3421c" stroke-width="1" fill="none"/>
<circle cx="563.7" cy="1418.2" r="4.1" stroke="#a3421c" stroke-width="1" fill="none"/>
<circle cx="563.7" cy="1478.05" r="4.1" stroke="#a3421c" stroke-width="1" fill="none"/>
<circle cx="563.7" cy="1537.9" r="4.1" stroke="#a3421c" stroke-width="1" fill="none"/>
<line x1="468.2" y1="1035.7" x2="468.2" y2="1440.8" stroke="#1a1a1a" stroke-width="1.1" stroke-dasharray="15.5 5 1.5 5"/>
<rect x="414.4" y="1055.5" width="107.6" height="91.8" stroke="#4fa7a3" stroke-width="1.1" fill="none"/>
<circle cx="434.3" cy="1078.8" r="5.8" stroke="#4fa7a3" stroke-width="1" fill="none"/>
<circle cx="434.3" cy="1088.3" r="5.8" stroke="#4fa7a3" stroke-width="1" fill="none"/>
<circle cx="434.3" cy="1123.5" r="5.8" stroke="#4fa7a3" stroke-width="1" fill="none"/>
<circle cx="434.3" cy="1133" r="5.8" stroke="#4fa7a3" stroke-width="1" fill="none"/>
<circle cx="468.2" cy="1078.8" r="5.8" stroke="#4fa7a3" stroke-width="1" fill="none"/>
<circle cx="468.2" cy="1088.3" r="5.8" stroke="#4fa7a3" stroke-width="1" fill="none"/>
<circle cx="468.2" cy="1123.5" r="5.8" stroke="#4fa7a3" stroke-width="1" fill="none"/>
<circle cx="468.2" cy="1133" r="5.8" stroke="#4fa7a3" stroke-width="1" fill="none"/>
<circle cx="502.1" cy="1078.8" r="5.8" stroke="#4fa7a3" stroke-width="1" fill="none"/>
<circle cx="502.1" cy="1088.3" r="5.8" stroke="#4fa7a3" stroke-width="1" fill="none"/>
<circle cx="502.1" cy="1123.5" r="5.8" stroke="#4fa7a3" stroke-width="1" fill="none"/>
<circle cx="502.1" cy="1133" r="5.8" stroke="#4fa7a3" stroke-width="1" fill="none"/>
<line x1="416.5" y1="1109.3" x2="520" y2="1109.3" stroke="#4fa7a3" stroke-width="0.9" stroke-dasharray="10 6"/>
<line x1="416.5" y1="1112" x2="520" y2="1112" stroke="#4fa7a3" stroke-width="0.9" stroke-dasharray="10 6"/>
<line x1="410.4" y1="1156.3" x2="522" y2="1156.3" stroke="#4fa7a3" stroke-width="1.1"/>
<line x1="410.4" y1="1156.3" x2="416" y2="1156.3" stroke="#2c2c9c" stroke-width="1.3"/>
<line x1="416" y1="1200.6" x2="520" y2="1200.6" stroke="#4fa7a3" stroke-width="1.1"/>
<line x1="410.4" y1="1064.6" x2="414.4" y2="1064.6" stroke="#2c2c9c" stroke-width="1.3"/>
<line x1="521.5" y1="1064.6" x2="525.8" y2="1064.6" stroke="#2c2c9c" stroke-width="1.3"/>
<rect x="414.4" y="1329.9" width="107.6" height="91.8" stroke="#4fa7a3" stroke-width="1.1" fill="none"/>
<circle cx="434.3" cy="1398.4" r="5.8" stroke="#4fa7a3" stroke-width="1" fill="none"/>
<circle cx="434.3" cy="1388.9" r="5.8" stroke="#4fa7a3" stroke-width="1" fill="none"/>
<circle cx="434.3" cy="1353.7" r="5.8" stroke="#4fa7a3" stroke-width="1" fill="none"/>
<circle cx="434.3" cy="1344.2" r="5.8" stroke="#4fa7a3" stroke-width="1" fill="none"/>
<circle cx="468.2" cy="1398.4" r="5.8" stroke="#4fa7a3" stroke-width="1" fill="none"/>
<circle cx="468.2" cy="1388.9" r="5.8" stroke="#4fa7a3" stroke-width="1" fill="none"/>
<circle cx="468.2" cy="1353.7" r="5.8" stroke="#4fa7a3" stroke-width="1" fill="none"/>
<circle cx="468.2" cy="1344.2" r="5.8" stroke="#4fa7a3" stroke-width="1" fill="none"/>
<circle cx="502.1" cy="1398.4" r="5.8" stroke="#4fa7a3" stroke-width="1" fill="none"/>
<circle cx="502.1" cy="1388.9" r="5.8" stroke="#4fa7a3" stroke-width="1" fill="none"/>
<circle cx="502.1" cy="1353.7" r="5.8" stroke="#4fa7a3" stroke-width="1" fill="none"/>
<circle cx="502.1" cy="1344.2" r="5.8" stroke="#4fa7a3" stroke-width="1" fill="none"/>
<line x1="416.5" y1="1367.9" x2="520" y2="1367.9" stroke="#4fa7a3" stroke-width="0.9" stroke-dasharray="10 6"/>
<line x1="416.5" y1="1365.2" x2="520" y2="1365.2" stroke="#4fa7a3" stroke-width="0.9" stroke-dasharray="10 6"/>
<line x1="410.4" y1="1320.9" x2="522" y2="1320.9" stroke="#4fa7a3" stroke-width="1.1"/>
<line x1="410.4" y1="1320.9" x2="416" y2="1320.9" stroke="#2c2c9c" stroke-width="1.3"/>
<line x1="416" y1="1276.6" x2="520" y2="1276.6" stroke="#4fa7a3" stroke-width="1.1"/>
<line x1="410.4" y1="1412.6" x2="414.4" y2="1412.6" stroke="#2c2c9c" stroke-width="1.3"/>
<line x1="521.5" y1="1412.6" x2="525.8" y2="1412.6" stroke="#2c2c9c" stroke-width="1.3"/>
<line x1="410.4" y1="1064.6" x2="410.4" y2="1412.6" stroke="#2c2c9c" stroke-width="1.3"/>
<line x1="525.8" y1="1064.6" x2="525.8" y2="1412.6" stroke="#5a6ec0" stroke-width="1.3"/>
<line x1="416.1" y1="1156.3" x2="416.1" y2="1276.6" stroke="#2c2c9c" stroke-width="1.3"/>
<line x1="416.1" y1="1276.6" x2="416.1" y2="1320.9" stroke="#2c2c9c" stroke-width="1.3" stroke-dasharray="8 4"/>
<line x1="520.1" y1="1156.3" x2="520.1" y2="1320.9" stroke="#2c2c9c" stroke-width="1.6" stroke-dasharray="14 4"/>
<rect x="416.1" y="1236.8" width="96.9" height="3.6" stroke="#4fa7a3" stroke-width="0.9" fill="url(#ht)"/>
<rect x="526.4" y="1159" width="7" height="159" stroke="#4fa7a3" stroke-width="0.9" fill="none"/>
<line x1="530.3" y1="1196.8" x2="530.3" y2="1280.4" stroke="#c67ed2" stroke-width="1" stroke-dasharray="6 4"/>
<rect x="512" y="1170.1" width="8.1" height="17" stroke="#a3421c" stroke-width="1.2" fill="#fff" rx="1.6"/>
<line x1="512.6" y1="1174.01" x2="519.5" y2="1174.01" stroke="#a3421c" stroke-width="0.85"/>
<line x1="512.6" y1="1178.6" x2="519.5" y2="1178.6" stroke="#a3421c" stroke-width="0.85"/>
<line x1="512.6" y1="1183.19" x2="519.5" y2="1183.19" stroke="#a3421c" stroke-width="0.85"/>
<line x1="514.27" y1="1170.7" x2="514.27" y2="1186.5" stroke="#a3421c" stroke-width="0.7"/>
<rect x="538.2" y="1170.1" width="13.2" height="17" stroke="#a3421c" stroke-width="1.2" fill="#fff" rx="1.6"/>
<line x1="538.8" y1="1174.01" x2="550.8" y2="1174.01" stroke="#a3421c" stroke-width="0.85"/>
<line x1="538.8" y1="1178.6" x2="550.8" y2="1178.6" stroke="#a3421c" stroke-width="0.85"/>
<line x1="538.8" y1="1183.19" x2="550.8" y2="1183.19" stroke="#a3421c" stroke-width="0.85"/>
<line x1="541.9" y1="1170.7" x2="541.9" y2="1186.5" stroke="#a3421c" stroke-width="0.7"/>
<line x1="520.1" y1="1175.1" x2="538" y2="1175.1" stroke="#999" stroke-width="0.6"/>
<line x1="520.1" y1="1182.1" x2="538" y2="1182.1" stroke="#999" stroke-width="0.6"/>
<rect x="512" y="1200.5" width="8.1" height="17" stroke="#a3421c" stroke-width="1.2" fill="#fff" rx="1.6"/>
<line x1="512.6" y1="1204.41" x2="519.5" y2="1204.41" stroke="#a3421c" stroke-width="0.85"/>
<line x1="512.6" y1="1209" x2="519.5" y2="1209" stroke="#a3421c" stroke-width="0.85"/>
<line x1="512.6" y1="1213.59" x2="519.5" y2="1213.59" stroke="#a3421c" stroke-width="0.85"/>
<line x1="514.27" y1="1201.1" x2="514.27" y2="1216.9" stroke="#a3421c" stroke-width="0.7"/>
<rect x="538.2" y="1200.5" width="13.2" height="17" stroke="#a3421c" stroke-width="1.2" fill="#fff" rx="1.6"/>
<line x1="538.8" y1="1204.41" x2="550.8" y2="1204.41" stroke="#a3421c" stroke-width="0.85"/>
<line x1="538.8" y1="1209" x2="550.8" y2="1209" stroke="#a3421c" stroke-width="0.85"/>
<line x1="538.8" y1="1213.59" x2="550.8" y2="1213.59" stroke="#a3421c" stroke-width="0.85"/>
<line x1="541.9" y1="1201.1" x2="541.9" y2="1216.9" stroke="#a3421c" stroke-width="0.7"/>
<line x1="520.1" y1="1205.5" x2="538" y2="1205.5" stroke="#999" stroke-width="0.6"/>
<line x1="520.1" y1="1212.5" x2="538" y2="1212.5" stroke="#999" stroke-width="0.6"/>
<rect x="512" y="1230" width="8.1" height="17" stroke="#a3421c" stroke-width="1.2" fill="#fff" rx="1.6"/>
<line x1="512.6" y1="1233.91" x2="519.5" y2="1233.91" stroke="#a3421c" stroke-width="0.85"/>
<line x1="512.6" y1="1238.5" x2="519.5" y2="1238.5" stroke="#a3421c" stroke-width="0.85"/>
<line x1="512.6" y1="1243.09" x2="519.5" y2="1243.09" stroke="#a3421c" stroke-width="0.85"/>
<line x1="514.27" y1="1230.6" x2="514.27" y2="1246.4" stroke="#a3421c" stroke-width="0.7"/>
<rect x="538.2" y="1230" width="13.2" height="17" stroke="#a3421c" stroke-width="1.2" fill="#fff" rx="1.6"/>
<line x1="538.8" y1="1233.91" x2="550.8" y2="1233.91" stroke="#a3421c" stroke-width="0.85"/>
<line x1="538.8" y1="1238.5" x2="550.8" y2="1238.5" stroke="#a3421c" stroke-width="0.85"/>
<line x1="538.8" y1="1243.09" x2="550.8" y2="1243.09" stroke="#a3421c" stroke-width="0.85"/>
<line x1="541.9" y1="1230.6" x2="541.9" y2="1246.4" stroke="#a3421c" stroke-width="0.7"/>
<line x1="520.1" y1="1235" x2="538" y2="1235" stroke="#999" stroke-width="0.6"/>
<line x1="520.1" y1="1242" x2="538" y2="1242" stroke="#999" stroke-width="0.6"/>
<rect x="512" y="1260.4" width="8.1" height="17" stroke="#a3421c" stroke-width="1.2" fill="#fff" rx="1.6"/>
<line x1="512.6" y1="1264.31" x2="519.5" y2="1264.31" stroke="#a3421c" stroke-width="0.85"/>
<line x1="512.6" y1="1268.9" x2="519.5" y2="1268.9" stroke="#a3421c" stroke-width="0.85"/>
<line x1="512.6" y1="1273.49" x2="519.5" y2="1273.49" stroke="#a3421c" stroke-width="0.85"/>
<line x1="514.27" y1="1261" x2="514.27" y2="1276.8" stroke="#a3421c" stroke-width="0.7"/>
<rect x="538.2" y="1260.4" width="13.2" height="17" stroke="#a3421c" stroke-width="1.2" fill="#fff" rx="1.6"/>
<line x1="538.8" y1="1264.31" x2="550.8" y2="1264.31" stroke="#a3421c" stroke-width="0.85"/>
<line x1="538.8" y1="1268.9" x2="550.8" y2="1268.9" stroke="#a3421c" stroke-width="0.85"/>
<line x1="538.8" y1="1273.49" x2="550.8" y2="1273.49" stroke="#a3421c" stroke-width="0.85"/>
<line x1="541.9" y1="1261" x2="541.9" y2="1276.8" stroke="#a3421c" stroke-width="0.7"/>
<line x1="520.1" y1="1265.4" x2="538" y2="1265.4" stroke="#999" stroke-width="0.6"/>
<line x1="520.1" y1="1272.4" x2="538" y2="1272.4" stroke="#999" stroke-width="0.6"/>
<rect x="512" y="1289.8" width="8.1" height="17" stroke="#a3421c" stroke-width="1.2" fill="#fff" rx="1.6"/>
<line x1="512.6" y1="1293.71" x2="519.5" y2="1293.71" stroke="#a3421c" stroke-width="0.85"/>
<line x1="512.6" y1="1298.3" x2="519.5" y2="1298.3" stroke="#a3421c" stroke-width="0.85"/>
<line x1="512.6" y1="1302.89" x2="519.5" y2="1302.89" stroke="#a3421c" stroke-width="0.85"/>
<line x1="514.27" y1="1290.4" x2="514.27" y2="1306.2" stroke="#a3421c" stroke-width="0.7"/>
<rect x="538.2" y="1289.8" width="13.2" height="17" stroke="#a3421c" stroke-width="1.2" fill="#fff" rx="1.6"/>
<line x1="538.8" y1="1293.71" x2="550.8" y2="1293.71" stroke="#a3421c" stroke-width="0.85"/>
<line x1="538.8" y1="1298.3" x2="550.8" y2="1298.3" stroke="#a3421c" stroke-width="0.85"/>
<line x1="538.8" y1="1302.89" x2="550.8" y2="1302.89" stroke="#a3421c" stroke-width="0.85"/>
<line x1="541.9" y1="1290.4" x2="541.9" y2="1306.2" stroke="#a3421c" stroke-width="0.7"/>
<line x1="520.1" y1="1294.8" x2="538" y2="1294.8" stroke="#999" stroke-width="0.6"/>
<line x1="520.1" y1="1301.8" x2="538" y2="1301.8" stroke="#999" stroke-width="0.6"/>
<rect x="507" y="1210" width="10" height="12" stroke="#aaa" stroke-width="0.8" fill="none"/>
<rect x="507" y="1253" width="10" height="12" stroke="#aaa" stroke-width="0.8" fill="none"/>
<rect x="600.5" y="1196.8" width="587.4" height="83.6" stroke="none" stroke-width="0" fill="url(#dotp)"/>
<line x1="600.5" y1="1196.8" x2="1187.9" y2="1196.8" stroke="#c67ed2" stroke-width="1.1"/>
<line x1="600.5" y1="1280.4" x2="1187.9" y2="1280.4" stroke="#c67ed2" stroke-width="1.1"/>
<line x1="600.5" y1="1196.8" x2="600.5" y2="1280.4" stroke="#c67ed2" stroke-width="1.1"/>
<line x1="530.3" y1="1196.8" x2="600.5" y2="1196.8" stroke="#c67ed2" stroke-width="1.1" stroke-dasharray="7 5"/>
<line x1="530.3" y1="1280.4" x2="600.5" y2="1280.4" stroke="#c67ed2" stroke-width="1.1" stroke-dasharray="7 5"/>
<line x1="538" y1="1236.4" x2="1187.9" y2="1236.4" stroke="#c67ed2" stroke-width="0.9" stroke-dasharray="8 4"/>
<line x1="538" y1="1240.8" x2="1187.9" y2="1240.8" stroke="#c67ed2" stroke-width="0.9" stroke-dasharray="8 4"/>
<line x1="389.5" y1="1238.5" x2="1213.5" y2="1238.5" stroke="#222" stroke-width="1.2" stroke-dasharray="15 5 1.5 5"/>
<rect x="694.2" y="1172.6" width="10.4" height="131.8" stroke="#e67c7c" stroke-width="1" fill="none"/>
<rect x="773.7" y="1172.6" width="10.4" height="131.8" stroke="#e67c7c" stroke-width="1" fill="none"/>
<rect x="993.4" y="1172.6" width="10.4" height="131.8" stroke="#e67c7c" stroke-width="1" fill="none"/>
<rect x="1072.6" y="1172.6" width="10.4" height="131.8" stroke="#e67c7c" stroke-width="1" fill="none"/>
<line x1="738.9" y1="1150.3" x2="738.9" y2="1326.6" stroke="#f0a0a0" stroke-width="1" stroke-dasharray="16 4 1.5 4"/>
<line x1="1038.2" y1="1150.3" x2="1038.2" y2="1326.6" stroke="#f0a0a0" stroke-width="1" stroke-dasharray="16 4 1.5 4"/>
<circle cx="618.6" cy="1238.5" r="4.1" stroke="#a3421c" stroke-width="1" fill="none"/>
<circle cx="678.45" cy="1238.5" r="4.1" stroke="#a3421c" stroke-width="1" fill="none"/>
<circle cx="738.3" cy="1238.5" r="4.1" stroke="#a3421c" stroke-width="1" fill="none"/>
<circle cx="798.15" cy="1238.5" r="4.1" stroke="#a3421c" stroke-width="1" fill="none"/>
<circle cx="858" cy="1238.5" r="4.1" stroke="#a3421c" stroke-width="1" fill="none"/>
<circle cx="917.85" cy="1238.5" r="4.1" stroke="#a3421c" stroke-width="1" fill="none"/>
<circle cx="977.7" cy="1238.5" r="4.1" stroke="#a3421c" stroke-width="1" fill="none"/>
<circle cx="1037.55" cy="1238.5" r="4.1" stroke="#a3421c" stroke-width="1" fill="none"/>
<circle cx="1097.4" cy="1238.5" r="4.1" stroke="#a3421c" stroke-width="1" fill="none"/>
<circle cx="1157.25" cy="1238.5" r="4.1" stroke="#a3421c" stroke-width="1" fill="none"/>
<line x1="1187.9" y1="1155.3" x2="1187.9" y2="1321.3" stroke="#9a9a9a" stroke-width="1" stroke-dasharray="16 6"/>
<path d="M937.9 1119.6 L950.8 1096.5 L948.9 1382 L961 1357.1" stroke="#e67c7c" stroke-width="2.2" fill="none"/>
<circle cx="1624.3" cy="1088.1" r="199" stroke="#9a9a9a" stroke-width="1" fill="none" stroke-dasharray="13 7"/>
<path d="M1432.04 952.32 L1391.29 903.75 L1483.21 826.61 L1523.96 875.18 Z" stroke="none" stroke-width="0" fill="url(#dotb)"/>
<path d="M1450.23 973.99 L1432.04 952.32 L1450.81 936.57 L1469 958.25 Z" stroke="none" stroke-width="0" fill="url(#ht)"/>
<path d="M1478.57 950.21 L1460.38 928.53 L1495.62 898.96 L1513.81 920.64 Z" stroke="none" stroke-width="0" fill="url(#ht)"/>
<path d="M1523.39 912.61 L1505.2 890.93 L1523.96 875.18 L1542.16 896.86 Z" stroke="none" stroke-width="0" fill="url(#ht)"/>
<line x1="1432.04" y1="952.32" x2="1391.29" y2="903.75" stroke="#2c2c9c" stroke-width="1.3"/>
<line x1="1523.96" y1="875.18" x2="1483.21" y2="826.61" stroke="#2c2c9c" stroke-width="1.3"/>
<line x1="1450.23" y1="973.99" x2="1432.04" y2="952.32" stroke="#4fa7a3" stroke-width="1.1"/>
<line x1="1542.16" y1="896.86" x2="1523.96" y2="875.18" stroke="#4fa7a3" stroke-width="1.1"/>
<line x1="1432.04" y1="952.32" x2="1523.96" y2="875.18" stroke="#4fa7a3" stroke-width="1.1"/>
<line x1="1440.33" y1="962.2" x2="1532.26" y2="885.06" stroke="#4fa7a3" stroke-width="1.5"/>
<line x1="1450.23" y1="973.99" x2="1542.16" y2="896.86" stroke="#4fa7a3" stroke-width="1.1"/>
<line x1="1469" y1="958.25" x2="1450.81" y2="936.57" stroke="#4fa7a3" stroke-width="0.8"/>
<line x1="1478.57" y1="950.21" x2="1460.38" y2="928.53" stroke="#4fa7a3" stroke-width="0.8"/>
<line x1="1513.81" y1="920.64" x2="1495.62" y2="898.96" stroke="#4fa7a3" stroke-width="0.8"/>
<line x1="1523.39" y1="912.61" x2="1505.2" y2="890.93" stroke="#4fa7a3" stroke-width="0.8"/>
<line x1="1366.77" y1="924.32" x2="1507.72" y2="806.04" stroke="#9a9a9a" stroke-width="1.1" stroke-dasharray="14 7"/>
<line x1="1488.03" y1="925.7" x2="1437.25" y2="865.18" stroke="#223" stroke-width="1" stroke-dasharray="6 4"/>
<line x1="1477.07" y1="915.44" x2="1435.55" y2="865.96" stroke="#2c2c9c" stroke-width="1.1"/>
<line x1="1479.83" y1="913.13" x2="1438.31" y2="863.64" stroke="#2c2c9c" stroke-width="1.1"/>
<line x1="1478.45" y1="914.28" x2="1436.93" y2="864.8" stroke="#5a5ad8" stroke-width="0.8" stroke-dasharray="20 2"/>
<path d="M1456.63 915.5 L1463.14 911.6 L1471.57 906.09 L1477.32 901.27 L1478.16 899 L1476.05 897.11 L1471.81 900.15 L1463.26 908.63 Z" stroke="none" stroke-width="0" fill="#e8491e"/>
<path d="M1584.54 1044.45 L1494.35 936.97 L1498.03 933.88 L1588.21 1041.36 Z" stroke="#4fa7a3" stroke-width="0.9" fill="url(#ht)"/>
<line x1="1585.73" y1="1042.14" x2="1496.19" y2="935.43" stroke="#333" stroke-width="0.8" stroke-dasharray="14 10"/>
<line x1="1624.3" y1="1088.1" x2="1488.03" y2="925.7" stroke="#1a1a1a" stroke-width="1" stroke-dasharray="16 5 1.5 5"/>
<path d="M1432.04 1223.88 L1391.29 1272.45 L1483.21 1349.59 L1523.96 1301.02 Z" stroke="none" stroke-width="0" fill="url(#dotb)"/>
<path d="M1450.23 1202.21 L1432.04 1223.88 L1450.81 1239.63 L1469 1217.95 Z" stroke="none" stroke-width="0" fill="url(#ht)"/>
<path d="M1478.57 1225.99 L1460.38 1247.67 L1495.62 1277.24 L1513.81 1255.56 Z" stroke="none" stroke-width="0" fill="url(#ht)"/>
<path d="M1523.39 1263.59 L1505.2 1285.27 L1523.96 1301.02 L1542.16 1279.34 Z" stroke="none" stroke-width="0" fill="url(#ht)"/>
<line x1="1432.04" y1="1223.88" x2="1391.29" y2="1272.45" stroke="#2c2c9c" stroke-width="1.3"/>
<line x1="1523.96" y1="1301.02" x2="1483.21" y2="1349.59" stroke="#2c2c9c" stroke-width="1.3"/>
<line x1="1450.23" y1="1202.21" x2="1432.04" y2="1223.88" stroke="#4fa7a3" stroke-width="1.1"/>
<line x1="1542.16" y1="1279.34" x2="1523.96" y2="1301.02" stroke="#4fa7a3" stroke-width="1.1"/>
<line x1="1432.04" y1="1223.88" x2="1523.96" y2="1301.02" stroke="#4fa7a3" stroke-width="1.1"/>
<line x1="1440.33" y1="1214" x2="1532.26" y2="1291.14" stroke="#4fa7a3" stroke-width="1.5"/>
<line x1="1450.23" y1="1202.21" x2="1542.16" y2="1279.34" stroke="#4fa7a3" stroke-width="1.1"/>
<line x1="1469" y1="1217.95" x2="1450.81" y2="1239.63" stroke="#4fa7a3" stroke-width="0.8"/>
<line x1="1478.57" y1="1225.99" x2="1460.38" y2="1247.67" stroke="#4fa7a3" stroke-width="0.8"/>
<line x1="1513.81" y1="1255.56" x2="1495.62" y2="1277.24" stroke="#4fa7a3" stroke-width="0.8"/>
<line x1="1523.39" y1="1263.59" x2="1505.2" y2="1285.27" stroke="#4fa7a3" stroke-width="0.8"/>
<line x1="1366.77" y1="1251.88" x2="1507.72" y2="1370.16" stroke="#9a9a9a" stroke-width="1.1" stroke-dasharray="14 7"/>
<line x1="1488.03" y1="1250.5" x2="1437.25" y2="1311.02" stroke="#223" stroke-width="1" stroke-dasharray="6 4"/>
<line x1="1477.07" y1="1260.76" x2="1435.55" y2="1310.24" stroke="#2c2c9c" stroke-width="1.1"/>
<line x1="1479.83" y1="1263.07" x2="1438.31" y2="1312.56" stroke="#2c2c9c" stroke-width="1.1"/>
<line x1="1478.45" y1="1261.92" x2="1436.93" y2="1311.4" stroke="#5a5ad8" stroke-width="0.8" stroke-dasharray="20 2"/>
<path d="M1483.44 1283.2 L1478.46 1277.46 L1471.57 1270.11 L1465.83 1265.29 L1463.45 1264.86 L1461.95 1267.26 L1465.68 1270.91 L1475.52 1277.86 Z" stroke="none" stroke-width="0" fill="#e8491e"/>
<path d="M1584.54 1131.75 L1494.35 1239.23 L1498.03 1242.32 L1588.21 1134.84 Z" stroke="#4fa7a3" stroke-width="0.9" fill="url(#ht)"/>
<line x1="1585.73" y1="1134.06" x2="1496.19" y2="1240.77" stroke="#333" stroke-width="0.8" stroke-dasharray="14 10"/>
<line x1="1624.3" y1="1088.1" x2="1488.03" y2="1250.5" stroke="#1a1a1a" stroke-width="1" stroke-dasharray="16 5 1.5 5"/>
<path d="M1816.56 952.32 L1857.31 903.75 L1765.39 826.61 L1724.64 875.18 Z" stroke="none" stroke-width="0" fill="url(#dotb)"/>
<path d="M1798.37 973.99 L1816.56 952.32 L1797.79 936.57 L1779.6 958.25 Z" stroke="none" stroke-width="0" fill="url(#ht)"/>
<path d="M1770.03 950.21 L1788.22 928.53 L1752.98 898.96 L1734.79 920.64 Z" stroke="none" stroke-width="0" fill="url(#ht)"/>
<path d="M1725.21 912.61 L1743.4 890.93 L1724.64 875.18 L1706.44 896.86 Z" stroke="none" stroke-width="0" fill="url(#ht)"/>
<line x1="1816.56" y1="952.32" x2="1857.31" y2="903.75" stroke="#2c2c9c" stroke-width="1.3"/>
<line x1="1724.64" y1="875.18" x2="1765.39" y2="826.61" stroke="#2c2c9c" stroke-width="1.3"/>
<line x1="1798.37" y1="973.99" x2="1816.56" y2="952.32" stroke="#4fa7a3" stroke-width="1.1"/>
<line x1="1706.44" y1="896.86" x2="1724.64" y2="875.18" stroke="#4fa7a3" stroke-width="1.1"/>
<line x1="1816.56" y1="952.32" x2="1724.64" y2="875.18" stroke="#4fa7a3" stroke-width="1.1"/>
<line x1="1808.27" y1="962.2" x2="1716.34" y2="885.06" stroke="#4fa7a3" stroke-width="1.5"/>
<line x1="1798.37" y1="973.99" x2="1706.44" y2="896.86" stroke="#4fa7a3" stroke-width="1.1"/>
<line x1="1779.6" y1="958.25" x2="1797.79" y2="936.57" stroke="#4fa7a3" stroke-width="0.8"/>
<line x1="1770.03" y1="950.21" x2="1788.22" y2="928.53" stroke="#4fa7a3" stroke-width="0.8"/>
<line x1="1734.79" y1="920.64" x2="1752.98" y2="898.96" stroke="#4fa7a3" stroke-width="0.8"/>
<line x1="1725.21" y1="912.61" x2="1743.4" y2="890.93" stroke="#4fa7a3" stroke-width="0.8"/>
<line x1="1881.83" y1="924.32" x2="1740.88" y2="806.04" stroke="#9a9a9a" stroke-width="1.1" stroke-dasharray="14 7"/>
<line x1="1760.57" y1="925.7" x2="1811.35" y2="865.18" stroke="#223" stroke-width="1" stroke-dasharray="6 4"/>
<line x1="1771.53" y1="915.44" x2="1813.05" y2="865.96" stroke="#2c2c9c" stroke-width="1.1"/>
<line x1="1768.77" y1="913.13" x2="1810.29" y2="863.64" stroke="#2c2c9c" stroke-width="1.1"/>
<line x1="1770.15" y1="914.28" x2="1811.67" y2="864.8" stroke="#5a5ad8" stroke-width="0.8" stroke-dasharray="20 2"/>
<path d="M1791.97 915.5 L1785.46 911.6 L1777.03 906.09 L1771.28 901.27 L1770.44 899 L1772.55 897.11 L1776.79 900.15 L1785.34 908.63 Z" stroke="none" stroke-width="0" fill="#e8491e"/>
<path d="M1664.06 1044.45 L1754.25 936.97 L1750.57 933.88 L1660.39 1041.36 Z" stroke="#4fa7a3" stroke-width="0.9" fill="url(#ht)"/>
<line x1="1662.87" y1="1042.14" x2="1752.41" y2="935.43" stroke="#333" stroke-width="0.8" stroke-dasharray="14 10"/>
<line x1="1624.3" y1="1088.1" x2="1760.57" y2="925.7" stroke="#1a1a1a" stroke-width="1" stroke-dasharray="16 5 1.5 5"/>
<path d="M1816.56 1223.88 L1857.31 1272.45 L1765.39 1349.59 L1724.64 1301.02 Z" stroke="none" stroke-width="0" fill="url(#dotb)"/>
<path d="M1798.37 1202.21 L1816.56 1223.88 L1797.79 1239.63 L1779.6 1217.95 Z" stroke="none" stroke-width="0" fill="url(#ht)"/>
<path d="M1770.03 1225.99 L1788.22 1247.67 L1752.98 1277.24 L1734.79 1255.56 Z" stroke="none" stroke-width="0" fill="url(#ht)"/>
<path d="M1725.21 1263.59 L1743.4 1285.27 L1724.64 1301.02 L1706.44 1279.34 Z" stroke="none" stroke-width="0" fill="url(#ht)"/>
<line x1="1816.56" y1="1223.88" x2="1857.31" y2="1272.45" stroke="#2c2c9c" stroke-width="1.3"/>
<line x1="1724.64" y1="1301.02" x2="1765.39" y2="1349.59" stroke="#2c2c9c" stroke-width="1.3"/>
<line x1="1798.37" y1="1202.21" x2="1816.56" y2="1223.88" stroke="#4fa7a3" stroke-width="1.1"/>
<line x1="1706.44" y1="1279.34" x2="1724.64" y2="1301.02" stroke="#4fa7a3" stroke-width="1.1"/>
<line x1="1816.56" y1="1223.88" x2="1724.64" y2="1301.02" stroke="#4fa7a3" stroke-width="1.1"/>
<line x1="1808.27" y1="1214" x2="1716.34" y2="1291.14" stroke="#4fa7a3" stroke-width="1.5"/>
<line x1="1798.37" y1="1202.21" x2="1706.44" y2="1279.34" stroke="#4fa7a3" stroke-width="1.1"/>
<line x1="1779.6" y1="1217.95" x2="1797.79" y2="1239.63" stroke="#4fa7a3" stroke-width="0.8"/>
<line x1="1770.03" y1="1225.99" x2="1788.22" y2="1247.67" stroke="#4fa7a3" stroke-width="0.8"/>
<line x1="1734.79" y1="1255.56" x2="1752.98" y2="1277.24" stroke="#4fa7a3" stroke-width="0.8"/>
<line x1="1725.21" y1="1263.59" x2="1743.4" y2="1285.27" stroke="#4fa7a3" stroke-width="0.8"/>
<line x1="1881.83" y1="1251.88" x2="1740.88" y2="1370.16" stroke="#9a9a9a" stroke-width="1.1" stroke-dasharray="14 7"/>
<line x1="1760.57" y1="1250.5" x2="1811.35" y2="1311.02" stroke="#223" stroke-width="1" stroke-dasharray="6 4"/>
<line x1="1771.53" y1="1260.76" x2="1813.05" y2="1310.24" stroke="#2c2c9c" stroke-width="1.1"/>
<line x1="1768.77" y1="1263.07" x2="1810.29" y2="1312.56" stroke="#2c2c9c" stroke-width="1.1"/>
<line x1="1770.15" y1="1261.92" x2="1811.67" y2="1311.4" stroke="#5a5ad8" stroke-width="0.8" stroke-dasharray="20 2"/>
<path d="M1765.16 1283.2 L1770.14 1277.46 L1777.03 1270.11 L1782.77 1265.29 L1785.15 1264.86 L1786.65 1267.26 L1782.92 1270.91 L1773.08 1277.86 Z" stroke="none" stroke-width="0" fill="#e8491e"/>
<path d="M1664.06 1131.75 L1754.25 1239.23 L1750.57 1242.32 L1660.39 1134.84 Z" stroke="#4fa7a3" stroke-width="0.9" fill="url(#ht)"/>
<line x1="1662.87" y1="1134.06" x2="1752.41" y2="1240.77" stroke="#333" stroke-width="0.8" stroke-dasharray="14 10"/>
<line x1="1624.3" y1="1088.1" x2="1760.57" y2="1250.5" stroke="#1a1a1a" stroke-width="1" stroke-dasharray="16 5 1.5 5"/>
<path d="M1542.16 896.86 A111 111 0 0 0 1706.44 896.86" stroke="#2c2c9c" stroke-width="1.3" fill="none"/>
<path d="M1542.16 1279.34 A111 111 0 0 1 1706.44 1279.34" stroke="#2c2c9c" stroke-width="1.3" fill="none"/>
<path d="M1450.23 973.99 A182.5 182.5 0 0 1 1450.23 1202.21" stroke="#2c2c9c" stroke-width="1.3" fill="none"/>
<path d="M1798.37 973.99 A182.5 182.5 0 0 0 1798.37 1202.21" stroke="#2c2c9c" stroke-width="1.3" fill="none"/>
<line x1="1384.3" y1="1088.1" x2="1864.3" y2="1088.1" stroke="#1a1a1a" stroke-width="1.1" stroke-dasharray="18 6 1.5 6"/>
<line x1="1624.3" y1="848.1" x2="1624.3" y2="1328.1" stroke="#1a1a1a" stroke-width="1.1" stroke-dasharray="18 6 1.5 6"/>
<line x1="1610.16" y1="1071.25" x2="1638.44" y2="1104.95" stroke="#1a1a1a" stroke-width="1"/>
<line x1="1638.44" y1="1071.25" x2="1610.16" y2="1104.95" stroke="#1a1a1a" stroke-width="1"/>
<rect x="1622.1" y="1028.1" width="4.6" height="159.3" stroke="#4fa7a3" stroke-width="1" fill="url(#ht)"/>
<line x1="1624.3" y1="1030" x2="1624.3" y2="1186" stroke="#222" stroke-width="1" stroke-dasharray="12 5"/>
<line x1="1582.2" y1="1108.1" x2="1666.6" y2="1108.1" stroke="#333" stroke-width="1.1" stroke-dasharray="14 5 1.5 5"/>
<line x1="1140.8" y1="1396.6" x2="1296.3" y2="1396.6" stroke="#9a9a9a" stroke-width="1" stroke-dasharray="13 6"/>
<line x1="1140.8" y1="1626.6" x2="1296.3" y2="1626.6" stroke="#9a9a9a" stroke-width="1" stroke-dasharray="13 6"/>
<line x1="1160.7" y1="1396.6" x2="1160.7" y2="1626.6" stroke="#5555c8" stroke-width="1.6" stroke-dasharray="7.8 3.7"/>
<line x1="1271" y1="1396.6" x2="1271" y2="1626.6" stroke="#5555c8" stroke-width="1.6" stroke-dasharray="7.8 3.7"/>
<line x1="1166.2" y1="1396.6" x2="1166.2" y2="1626.6" stroke="#2c2c9c" stroke-width="1.1" stroke-dasharray="7.8 3.7"/>
<line x1="1276.6" y1="1396.6" x2="1276.6" y2="1626.6" stroke="#2c2c9c" stroke-width="1.1" stroke-dasharray="7.8 3.7"/>
<line x1="1218.6" y1="1396.6" x2="1218.6" y2="1626.6" stroke="#1a1a1a" stroke-width="1.1" stroke-dasharray="15.5 5 1.5 5"/>
<path d="M1284.3 1545.2 L1284.3 1487 Q1284.3 1484.9 1286 1485.3 Q1289.6 1487 1289.6 1492 L1289.6 1536.6 Q1289.6 1540.5 1293.5 1540.5 L1340 1540.5 Q1343 1541.5 1344.5 1543.5" stroke="#3d86b8" stroke-width="1.2" fill="none"/>
<line x1="1284.3" y1="1545.2" x2="1344.5" y2="1545.2" stroke="#3d86b8" stroke-width="1.5"/>
<line x1="1344.5" y1="1502.1" x2="1344.5" y2="1545.2" stroke="#4fa7a3" stroke-width="1.1"/>
<line x1="1284.3" y1="1502.1" x2="1344.5" y2="1502.1" stroke="#8a8070" stroke-width="1.1"/>
<path d="M1344.5 1502.6 L1344.5 1539.4 L1430.7 1534.3 L1432.7 1534.4 L1437.7 1540 L1442.7 1534.4 L1455.7 1534.4 L1456.3 1542.9 L1460.2 1549.9 L1463.1 1554.9 L1467.6 1595.7 L1473.3 1602 L1474.3 1616.2 L1485.2 1615 L1489.7 1609.4 L1494.2 1615 L1505.1 1616.2 L1506.1 1602 L1511.8 1595.7 L1516.3 1554.9 L1519.2 1549.9 L1523.1 1542.9 L1523.7 1534.4 L1538.7 1534.4 L1543.7 1539.6 L1548.7 1534.4 L1731.7 1534.4 L1736.7 1540 L1741.7 1534.4 L1754.7 1534.4 L1755.3 1542.9 L1759.2 1549.9 L1762.1 1554.9 L1766.6 1595.7 L1772.3 1602 L1773.3 1616.2 L1784.2 1615 L1788.7 1609.4 L1793.2 1615 L1804.1 1616.2 L1805.1 1602 L1810.8 1595.7 L1815.3 1554.9 L1818.2 1549.9 L1822.1 1542.9 L1822.7 1534.4 L1837.7 1534.4 L1842.7 1539.6 L1847.7 1534.4 L1938 1534.4 L1938 1502.6 Z" stroke="none" stroke-width="0" fill="url(#dots)"/>
<clipPath id="xc4"><path d="M1344.5 1502.6 L1344.5 1539.4 L1430.7 1534.3 L1432.7 1534.4 L1437.7 1540 L1442.7 1534.4 L1455.7 1534.4 L1456.3 1542.9 L1460.2 1549.9 L1463.1 1554.9 L1467.6 1595.7 L1473.3 1602 L1474.3 1616.2 L1485.2 1615 L1489.7 1609.4 L1494.2 1615 L1505.1 1616.2 L1506.1 1602 L1511.8 1595.7 L1516.3 1554.9 L1519.2 1549.9 L1523.1 1542.9 L1523.7 1534.4 L1538.7 1534.4 L1543.7 1539.6 L1548.7 1534.4 L1731.7 1534.4 L1736.7 1540 L1741.7 1534.4 L1754.7 1534.4 L1755.3 1542.9 L1759.2 1549.9 L1762.1 1554.9 L1766.6 1595.7 L1772.3 1602 L1773.3 1616.2 L1784.2 1615 L1788.7 1609.4 L1793.2 1615 L1804.1 1616.2 L1805.1 1602 L1810.8 1595.7 L1815.3 1554.9 L1818.2 1549.9 L1822.1 1542.9 L1822.7 1534.4 L1837.7 1534.4 L1842.7 1539.6 L1847.7 1534.4 L1938 1534.4 L1938 1502.6 Z"/></clipPath>
<clipPath id="xc4r"><rect x="0" y="0" width="1489.7" height="1755"/></clipPath>
<g clip-path="url(#xc4r)"><g clip-path="url(#xc4)"><path d="M1191.53 1500.6 L1310.82 1618.2 M1201.87 1500.6 L1082.58 1618.2 M1205.63 1500.6 L1324.92 1618.2 M1215.97 1500.6 L1096.68 1618.2 M1219.73 1500.6 L1339.02 1618.2 M1230.07 1500.6 L1110.78 1618.2 M1233.83 1500.6 L1353.12 1618.2 M1244.17 1500.6 L1124.88 1618.2 M1247.93 1500.6 L1367.22 1618.2 M1258.27 1500.6 L1138.98 1618.2 M1262.03 1500.6 L1381.32 1618.2 M1272.37 1500.6 L1153.08 1618.2 M1276.13 1500.6 L1395.42 1618.2 M1286.47 1500.6 L1167.18 1618.2 M1290.23 1500.6 L1409.52 1618.2 M1300.57 1500.6 L1181.28 1618.2 M1304.33 1500.6 L1423.62 1618.2 M1314.67 1500.6 L1195.38 1618.2 M1318.43 1500.6 L1437.72 1618.2 M1328.77 1500.6 L1209.48 1618.2 M1332.53 1500.6 L1451.82 1618.2 M1342.87 1500.6 L1223.58 1618.2 M1346.63 1500.6 L1465.92 1618.2 M1356.97 1500.6 L1237.68 1618.2 M1360.73 1500.6 L1480.02 1618.2 M1371.07 1500.6 L1251.78 1618.2 M1374.83 1500.6 L1494.12 1618.2 M1385.17 1500.6 L1265.88 1618.2 M1388.93 1500.6 L1508.22 1618.2 M1399.27 1500.6 L1279.98 1618.2 M1403.03 1500.6 L1522.32 1618.2 M1413.37 1500.6 L1294.08 1618.2 M1417.13 1500.6 L1536.42 1618.2 M1427.47 1500.6 L1308.18 1618.2 M1431.23 1500.6 L1550.52 1618.2 M1441.57 1500.6 L1322.28 1618.2 M1445.33 1500.6 L1564.62 1618.2 M1455.67 1500.6 L1336.38 1618.2 M1459.43 1500.6 L1578.72 1618.2 M1469.77 1500.6 L1350.48 1618.2 M1473.53 1500.6 L1592.82 1618.2 M1483.87 1500.6 L1364.58 1618.2 M1487.63 1500.6 L1606.92 1618.2 M1497.97 1500.6 L1378.68 1618.2 M1501.73 1500.6 L1621.02 1618.2 M1512.07 1500.6 L1392.78 1618.2 M1515.83 1500.6 L1635.12 1618.2 M1526.17 1500.6 L1406.88 1618.2 M1529.93 1500.6 L1649.22 1618.2 M1540.27 1500.6 L1420.98 1618.2 M1544.03 1500.6 L1663.32 1618.2 M1554.37 1500.6 L1435.08 1618.2 M1558.13 1500.6 L1677.42 1618.2 M1568.47 1500.6 L1449.18 1618.2 M1572.23 1500.6 L1691.52 1618.2 M1582.57 1500.6 L1463.28 1618.2 M1586.33 1500.6 L1705.62 1618.2 M1596.67 1500.6 L1477.38 1618.2 M1600.43 1500.6 L1719.72 1618.2 M1610.77 1500.6 L1491.48 1618.2 M1614.53 1500.6 L1733.82 1618.2 M1624.87 1500.6 L1505.58 1618.2 M1628.63 1500.6 L1747.92 1618.2 M1638.97 1500.6 L1519.68 1618.2" stroke="#858585" stroke-width="1" fill="none"/></g></g>
<clipPath id="xc5"><path d="M1344.5 1502.6 L1344.5 1539.4 L1430.7 1534.3 L1432.7 1534.4 L1437.7 1540 L1442.7 1534.4 L1455.7 1534.4 L1456.3 1542.9 L1460.2 1549.9 L1463.1 1554.9 L1467.6 1595.7 L1473.3 1602 L1474.3 1616.2 L1485.2 1615 L1489.7 1609.4 L1494.2 1615 L1505.1 1616.2 L1506.1 1602 L1511.8 1595.7 L1516.3 1554.9 L1519.2 1549.9 L1523.1 1542.9 L1523.7 1534.4 L1538.7 1534.4 L1543.7 1539.6 L1548.7 1534.4 L1731.7 1534.4 L1736.7 1540 L1741.7 1534.4 L1754.7 1534.4 L1755.3 1542.9 L1759.2 1549.9 L1762.1 1554.9 L1766.6 1595.7 L1772.3 1602 L1773.3 1616.2 L1784.2 1615 L1788.7 1609.4 L1793.2 1615 L1804.1 1616.2 L1805.1 1602 L1810.8 1595.7 L1815.3 1554.9 L1818.2 1549.9 L1822.1 1542.9 L1822.7 1534.4 L1837.7 1534.4 L1842.7 1539.6 L1847.7 1534.4 L1938 1534.4 L1938 1502.6 Z"/></clipPath>
<clipPath id="xc5r"><rect x="1489.7" y="0" width="299" height="1755"/></clipPath>
<g clip-path="url(#xc5r)"><g clip-path="url(#xc5)"><path d="M1334.7 1500.6 L1453.99 1618.2 M1349.3 1500.6 L1230.01 1618.2 M1348.8 1500.6 L1468.09 1618.2 M1363.4 1500.6 L1244.11 1618.2 M1362.9 1500.6 L1482.19 1618.2 M1377.5 1500.6 L1258.21 1618.2 M1377 1500.6 L1496.29 1618.2 M1391.6 1500.6 L1272.31 1618.2 M1391.1 1500.6 L1510.39 1618.2 M1405.7 1500.6 L1286.41 1618.2 M1405.2 1500.6 L1524.49 1618.2 M1419.8 1500.6 L1300.51 1618.2 M1419.3 1500.6 L1538.59 1618.2 M1433.9 1500.6 L1314.61 1618.2 M1433.4 1500.6 L1552.69 1618.2 M1448 1500.6 L1328.71 1618.2 M1447.5 1500.6 L1566.79 1618.2 M1462.1 1500.6 L1342.81 1618.2 M1461.6 1500.6 L1580.89 1618.2 M1476.2 1500.6 L1356.91 1618.2 M1475.7 1500.6 L1594.99 1618.2 M1490.3 1500.6 L1371.01 1618.2 M1489.8 1500.6 L1609.09 1618.2 M1504.4 1500.6 L1385.11 1618.2 M1503.9 1500.6 L1623.19 1618.2 M1518.5 1500.6 L1399.21 1618.2 M1518 1500.6 L1637.29 1618.2 M1532.6 1500.6 L1413.31 1618.2 M1532.1 1500.6 L1651.39 1618.2 M1546.7 1500.6 L1427.41 1618.2 M1546.2 1500.6 L1665.49 1618.2 M1560.8 1500.6 L1441.51 1618.2 M1560.3 1500.6 L1679.59 1618.2 M1574.9 1500.6 L1455.61 1618.2 M1574.4 1500.6 L1693.69 1618.2 M1589 1500.6 L1469.71 1618.2 M1588.5 1500.6 L1707.79 1618.2 M1603.1 1500.6 L1483.81 1618.2 M1602.6 1500.6 L1721.89 1618.2 M1617.2 1500.6 L1497.91 1618.2 M1616.7 1500.6 L1735.99 1618.2 M1631.3 1500.6 L1512.01 1618.2 M1630.8 1500.6 L1750.09 1618.2 M1645.4 1500.6 L1526.11 1618.2 M1644.9 1500.6 L1764.19 1618.2 M1659.5 1500.6 L1540.21 1618.2 M1659 1500.6 L1778.29 1618.2 M1673.6 1500.6 L1554.31 1618.2 M1673.1 1500.6 L1792.39 1618.2 M1687.7 1500.6 L1568.41 1618.2 M1687.2 1500.6 L1806.49 1618.2 M1701.8 1500.6 L1582.51 1618.2 M1701.3 1500.6 L1820.59 1618.2 M1715.9 1500.6 L1596.61 1618.2 M1715.4 1500.6 L1834.69 1618.2 M1730 1500.6 L1610.71 1618.2 M1729.5 1500.6 L1848.79 1618.2 M1744.1 1500.6 L1624.81 1618.2 M1743.6 1500.6 L1862.89 1618.2 M1758.2 1500.6 L1638.91 1618.2 M1757.7 1500.6 L1876.99 1618.2 M1772.3 1500.6 L1653.01 1618.2 M1771.8 1500.6 L1891.09 1618.2 M1786.4 1500.6 L1667.11 1618.2 M1785.9 1500.6 L1905.19 1618.2 M1800.5 1500.6 L1681.21 1618.2 M1800 1500.6 L1919.29 1618.2 M1814.6 1500.6 L1695.31 1618.2 M1814.1 1500.6 L1933.39 1618.2 M1828.7 1500.6 L1709.41 1618.2 M1828.2 1500.6 L1947.49 1618.2 M1842.8 1500.6 L1723.51 1618.2 M1842.3 1500.6 L1961.59 1618.2 M1856.9 1500.6 L1737.61 1618.2 M1856.4 1500.6 L1975.69 1618.2 M1871 1500.6 L1751.71 1618.2 M1870.5 1500.6 L1989.79 1618.2 M1885.1 1500.6 L1765.81 1618.2 M1884.6 1500.6 L2003.89 1618.2 M1899.2 1500.6 L1779.91 1618.2 M1898.7 1500.6 L2017.99 1618.2 M1913.3 1500.6 L1794.01 1618.2 M1912.8 1500.6 L2032.09 1618.2 M1927.4 1500.6 L1808.11 1618.2 M1926.9 1500.6 L2046.19 1618.2 M1941.5 1500.6 L1822.21 1618.2" stroke="#858585" stroke-width="1" fill="none"/></g></g>
<clipPath id="xc6"><path d="M1344.5 1502.6 L1344.5 1539.4 L1430.7 1534.3 L1432.7 1534.4 L1437.7 1540 L1442.7 1534.4 L1455.7 1534.4 L1456.3 1542.9 L1460.2 1549.9 L1463.1 1554.9 L1467.6 1595.7 L1473.3 1602 L1474.3 1616.2 L1485.2 1615 L1489.7 1609.4 L1494.2 1615 L1505.1 1616.2 L1506.1 1602 L1511.8 1595.7 L1516.3 1554.9 L1519.2 1549.9 L1523.1 1542.9 L1523.7 1534.4 L1538.7 1534.4 L1543.7 1539.6 L1548.7 1534.4 L1731.7 1534.4 L1736.7 1540 L1741.7 1534.4 L1754.7 1534.4 L1755.3 1542.9 L1759.2 1549.9 L1762.1 1554.9 L1766.6 1595.7 L1772.3 1602 L1773.3 1616.2 L1784.2 1615 L1788.7 1609.4 L1793.2 1615 L1804.1 1616.2 L1805.1 1602 L1810.8 1595.7 L1815.3 1554.9 L1818.2 1549.9 L1822.1 1542.9 L1822.7 1534.4 L1837.7 1534.4 L1842.7 1539.6 L1847.7 1534.4 L1938 1534.4 L1938 1502.6 Z"/></clipPath>
<clipPath id="xc6r"><rect x="1788.7" y="0" width="711.3" height="1755"/></clipPath>
<g clip-path="url(#xc6r)"><g clip-path="url(#xc6)"><path d="M1642.73 1500.6 L1762.02 1618.2 M1653.07 1500.6 L1533.78 1618.2 M1656.83 1500.6 L1776.12 1618.2 M1667.17 1500.6 L1547.88 1618.2 M1670.93 1500.6 L1790.22 1618.2 M1681.27 1500.6 L1561.98 1618.2 M1685.03 1500.6 L1804.32 1618.2 M1695.37 1500.6 L1576.08 1618.2 M1699.13 1500.6 L1818.42 1618.2 M1709.47 1500.6 L1590.18 1618.2 M1713.23 1500.6 L1832.52 1618.2 M1723.57 1500.6 L1604.28 1618.2 M1727.33 1500.6 L1846.62 1618.2 M1737.67 1500.6 L1618.38 1618.2 M1741.43 1500.6 L1860.72 1618.2 M1751.77 1500.6 L1632.48 1618.2 M1755.53 1500.6 L1874.82 1618.2 M1765.87 1500.6 L1646.58 1618.2 M1769.63 1500.6 L1888.92 1618.2 M1779.97 1500.6 L1660.68 1618.2 M1783.73 1500.6 L1903.02 1618.2 M1794.07 1500.6 L1674.78 1618.2 M1797.83 1500.6 L1917.12 1618.2 M1808.17 1500.6 L1688.88 1618.2 M1811.93 1500.6 L1931.22 1618.2 M1822.27 1500.6 L1702.98 1618.2 M1826.03 1500.6 L1945.32 1618.2 M1836.37 1500.6 L1717.08 1618.2 M1840.13 1500.6 L1959.42 1618.2 M1850.47 1500.6 L1731.18 1618.2 M1854.23 1500.6 L1973.52 1618.2 M1864.57 1500.6 L1745.28 1618.2 M1868.33 1500.6 L1987.62 1618.2 M1878.67 1500.6 L1759.38 1618.2 M1882.43 1500.6 L2001.72 1618.2 M1892.77 1500.6 L1773.48 1618.2 M1896.53 1500.6 L2015.82 1618.2 M1906.87 1500.6 L1787.58 1618.2 M1910.63 1500.6 L2029.92 1618.2 M1920.97 1500.6 L1801.68 1618.2 M1924.73 1500.6 L2044.02 1618.2 M1935.07 1500.6 L1815.78 1618.2 M1938.83 1500.6 L2058.12 1618.2 M1949.17 1500.6 L1829.88 1618.2 M1952.93 1500.6 L2072.22 1618.2 M1963.27 1500.6 L1843.98 1618.2 M1967.03 1500.6 L2086.32 1618.2 M1977.37 1500.6 L1858.08 1618.2 M1981.13 1500.6 L2100.42 1618.2 M1991.47 1500.6 L1872.18 1618.2 M1995.23 1500.6 L2114.52 1618.2 M2005.57 1500.6 L1886.28 1618.2 M2009.33 1500.6 L2128.62 1618.2 M2019.67 1500.6 L1900.38 1618.2 M2023.43 1500.6 L2142.72 1618.2 M2033.77 1500.6 L1914.48 1618.2 M2037.53 1500.6 L2156.82 1618.2 M2047.87 1500.6 L1928.58 1618.2 M2051.63 1500.6 L2170.92 1618.2 M2061.97 1500.6 L1942.68 1618.2 M2065.73 1500.6 L2185.02 1618.2 M2076.07 1500.6 L1956.78 1618.2 M2079.83 1500.6 L2199.12 1618.2 M2090.17 1500.6 L1970.88 1618.2" stroke="#858585" stroke-width="1" fill="none"/></g></g>
<path d="M1320.9 1540.1 L1344.5 1539.4 L1430.7 1534.3 L1432.7 1534.4 L1437.7 1540 L1442.7 1534.4 L1455.7 1534.4 L1456.3 1542.9 L1460.2 1549.9 L1463.1 1554.9 L1467.6 1595.7 L1473.3 1602 L1474.3 1616.2 L1485.2 1615 L1489.7 1609.4 L1494.2 1615 L1505.1 1616.2 L1506.1 1602 L1511.8 1595.7 L1516.3 1554.9 L1519.2 1549.9 L1523.1 1542.9 L1523.7 1534.4 L1538.7 1534.4 L1543.7 1539.6 L1548.7 1534.4 L1731.7 1534.4 L1736.7 1540 L1741.7 1534.4 L1754.7 1534.4 L1755.3 1542.9 L1759.2 1549.9 L1762.1 1554.9 L1766.6 1595.7 L1772.3 1602 L1773.3 1616.2 L1784.2 1615 L1788.7 1609.4 L1793.2 1615 L1804.1 1616.2 L1805.1 1602 L1810.8 1595.7 L1815.3 1554.9 L1818.2 1549.9 L1822.1 1542.9 L1822.7 1534.4 L1837.7 1534.4 L1842.7 1539.6 L1847.7 1534.4 L1938 1534.4" stroke="#e67c7c" stroke-width="1.6" fill="none"/>
<line x1="1344.5" y1="1502.6" x2="1938" y2="1502.6" stroke="#c9562b" stroke-width="1.4"/>
<line x1="1489.7" y1="1439.7" x2="1489.7" y2="1617" stroke="#f0a0a0" stroke-width="1" stroke-dasharray="16 4 1.5 4"/>
<line x1="1788.7" y1="1439.7" x2="1788.7" y2="1617" stroke="#f0a0a0" stroke-width="1" stroke-dasharray="16 4 1.5 4"/>
<line x1="1449.2" y1="1526.4" x2="1449.2" y2="1542.7" stroke="#e67c7c" stroke-width="2.2"/>
<rect x="1444.2" y="1534.8" width="10" height="13" stroke="#f3b5b5" stroke-width="0.7" fill="none"/>
<line x1="1529.5" y1="1526.4" x2="1529.5" y2="1542.7" stroke="#e67c7c" stroke-width="2.2"/>
<rect x="1524.5" y="1534.8" width="10" height="13" stroke="#f3b5b5" stroke-width="0.7" fill="none"/>
<line x1="1938" y1="1470.4" x2="1938" y2="1564.4" stroke="#9a9a9a" stroke-width="1" stroke-dasharray="16 6"/>
<rect x="1307.6" y="1510.4" width="13.4" height="4.2" stroke="#a0452a" stroke-width="1.05" fill="#fff"/>
<rect x="1310.3" y="1514.6" width="8" height="25.9" stroke="#a0452a" stroke-width="1.05" fill="#fff"/>
<circle cx="1300.2" cy="1522.1" r="5.9" stroke="#a3421c" stroke-width="2" fill="none"/>
<circle cx="1300.2" cy="1522.1" r="3.5" stroke="#a3421c" stroke-width="1.1" fill="none"/>
<line x1="1293.3" y1="1522.1" x2="1307.1" y2="1522.1" stroke="#a3421c" stroke-width="0.6"/>
<line x1="1300.2" y1="1515.2" x2="1300.2" y2="1529" stroke="#a3421c" stroke-width="0.6"/>
<line x1="1297.7" y1="1522.1" x2="1302.7" y2="1522.1" stroke="#888" stroke-width="0.8"/>
<line x1="1300.2" y1="1519.6" x2="1300.2" y2="1524.6" stroke="#888" stroke-width="0.8"/>
<circle cx="1328.4" cy="1522.1" r="5.9" stroke="#a3421c" stroke-width="2" fill="none"/>
<circle cx="1328.4" cy="1522.1" r="3.5" stroke="#a3421c" stroke-width="1.1" fill="none"/>
<line x1="1321.5" y1="1522.1" x2="1335.3" y2="1522.1" stroke="#a3421c" stroke-width="0.6"/>
<line x1="1328.4" y1="1515.2" x2="1328.4" y2="1529" stroke="#a3421c" stroke-width="0.6"/>
<line x1="1325.9" y1="1522.1" x2="1330.9" y2="1522.1" stroke="#888" stroke-width="0.8"/>
<line x1="1328.4" y1="1519.6" x2="1328.4" y2="1524.6" stroke="#888" stroke-width="0.8"/>
<line x1="1331.9" y1="1531.5" x2="1331.9" y2="1548.8" stroke="#e67c7c" stroke-width="2.6"/>
<path d="M1889.93 89.3 L1981.23 165.94 L1908.57 252.5 L1817.27 175.86 Z" stroke="none" stroke-width="0" fill="url(#hnavy)"/>
<path d="M1886.52 93.36 L1924.13 124.93 A8.5 8.5 0 0 1 1925.17 136.91 L1870.26 202.32 A8.5 8.5 0 0 1 1858.29 203.37 L1820.67 171.8 Z" stroke="#2a3ccc" stroke-width="1.1" fill="#fff"/>
<path d="M1977.83 170 L1940.21 138.43 A8.5 8.5 0 0 0 1928.24 139.48 L1873.33 204.89 A8.5 8.5 0 0 0 1874.37 216.87 L1911.98 248.44 Z" stroke="#2a3ccc" stroke-width="1.1" fill="#fff"/>
<line x1="1889.93" y1="89.3" x2="1981.23" y2="165.94" stroke="#2a3ccc" stroke-width="1.1"/>
<line x1="1817.27" y1="175.86" x2="1908.57" y2="252.5" stroke="#2a3ccc" stroke-width="1.1"/>
<line x1="1886.78" y1="93.05" x2="1820.42" y2="172.1" stroke="#4fa7a3" stroke-width="1"/>
<line x1="1978.08" y1="169.7" x2="1911.72" y2="248.75" stroke="#4fa7a3" stroke-width="1"/>
<line x1="1837.97" y1="119.46" x2="1853.6" y2="132.58" stroke="#222" stroke-width="1"/>
<line x1="1863.25" y1="140.68" x2="1894.65" y2="167.04" stroke="#222" stroke-width="1"/>
<line x1="1903.85" y1="174.76" x2="1935.63" y2="201.44" stroke="#222" stroke-width="1"/>
<line x1="1944.9" y1="209.22" x2="1960.53" y2="222.34" stroke="#222" stroke-width="1"/>
<line x1="1948.76" y1="111.92" x2="1937.19" y2="125.71" stroke="#222" stroke-width="1"/>
<line x1="1860.99" y1="216.48" x2="1849.1" y2="230.65" stroke="#222" stroke-width="1"/>
<path d="M1901.72 135.43 L1891.38 133.61 L1887.79 123.74 L1894.54 115.7 L1904.88 117.52 L1908.47 127.39 Z" stroke="#a3421c" stroke-width="1.6" fill="none"/>
<circle cx="1898.13" cy="125.57" r="8.2" stroke="#a3421c" stroke-width="0.9" fill="none"/>
<circle cx="1898.13" cy="125.57" r="5.4" stroke="#a3421c" stroke-width="0.9" fill="none"/>
<line x1="1894.13" y1="121.57" x2="1902.13" y2="129.57" stroke="#888" stroke-width="0.6"/>
<line x1="1894.13" y1="129.57" x2="1902.13" y2="121.57" stroke="#888" stroke-width="0.6"/>
<path d="M1879.86 161.48 L1869.52 159.65 L1865.93 149.79 L1872.68 141.74 L1883.02 143.57 L1886.61 153.43 Z" stroke="#a3421c" stroke-width="1.6" fill="none"/>
<circle cx="1876.27" cy="151.61" r="8.2" stroke="#a3421c" stroke-width="0.9" fill="none"/>
<circle cx="1876.27" cy="151.61" r="5.4" stroke="#a3421c" stroke-width="0.9" fill="none"/>
<line x1="1872.27" y1="147.61" x2="1880.27" y2="155.61" stroke="#888" stroke-width="0.6"/>
<line x1="1872.27" y1="155.61" x2="1880.27" y2="147.61" stroke="#888" stroke-width="0.6"/>
<path d="M1858 187.52 L1847.66 185.7 L1844.07 175.83 L1850.82 167.79 L1861.16 169.61 L1864.75 179.48 Z" stroke="#a3421c" stroke-width="1.6" fill="none"/>
<circle cx="1854.41" cy="177.65" r="8.2" stroke="#a3421c" stroke-width="0.9" fill="none"/>
<circle cx="1854.41" cy="177.65" r="5.4" stroke="#a3421c" stroke-width="0.9" fill="none"/>
<line x1="1850.41" y1="173.65" x2="1858.41" y2="181.65" stroke="#888" stroke-width="0.6"/>
<line x1="1850.41" y1="181.65" x2="1858.41" y2="173.65" stroke="#888" stroke-width="0.6"/>
<path d="M1947.68 174.01 L1937.34 172.19 L1933.75 162.32 L1940.5 154.28 L1950.84 156.1 L1954.43 165.97 Z" stroke="#a3421c" stroke-width="1.6" fill="none"/>
<circle cx="1944.09" cy="164.15" r="8.2" stroke="#a3421c" stroke-width="0.9" fill="none"/>
<circle cx="1944.09" cy="164.15" r="5.4" stroke="#a3421c" stroke-width="0.9" fill="none"/>
<line x1="1940.09" y1="160.15" x2="1948.09" y2="168.15" stroke="#888" stroke-width="0.6"/>
<line x1="1940.09" y1="168.15" x2="1948.09" y2="160.15" stroke="#888" stroke-width="0.6"/>
<path d="M1925.82 200.06 L1915.48 198.23 L1911.89 188.37 L1918.64 180.32 L1928.98 182.15 L1932.57 192.01 Z" stroke="#a3421c" stroke-width="1.6" fill="none"/>
<circle cx="1922.23" cy="190.19" r="8.2" stroke="#a3421c" stroke-width="0.9" fill="none"/>
<circle cx="1922.23" cy="190.19" r="5.4" stroke="#a3421c" stroke-width="0.9" fill="none"/>
<line x1="1918.23" y1="186.19" x2="1926.23" y2="194.19" stroke="#888" stroke-width="0.6"/>
<line x1="1918.23" y1="194.19" x2="1926.23" y2="186.19" stroke="#888" stroke-width="0.6"/>
<path d="M1903.96 226.1 L1893.62 224.28 L1890.03 214.41 L1896.78 206.37 L1907.12 208.19 L1910.71 218.06 Z" stroke="#a3421c" stroke-width="1.6" fill="none"/>
<circle cx="1900.37" cy="216.23" r="8.2" stroke="#a3421c" stroke-width="0.9" fill="none"/>
<circle cx="1900.37" cy="216.23" r="5.4" stroke="#a3421c" stroke-width="0.9" fill="none"/>
<line x1="1896.37" y1="212.23" x2="1904.37" y2="220.23" stroke="#888" stroke-width="0.6"/>
<line x1="1896.37" y1="220.23" x2="1904.37" y2="212.23" stroke="#888" stroke-width="0.6"/></svg>
</body></html>
